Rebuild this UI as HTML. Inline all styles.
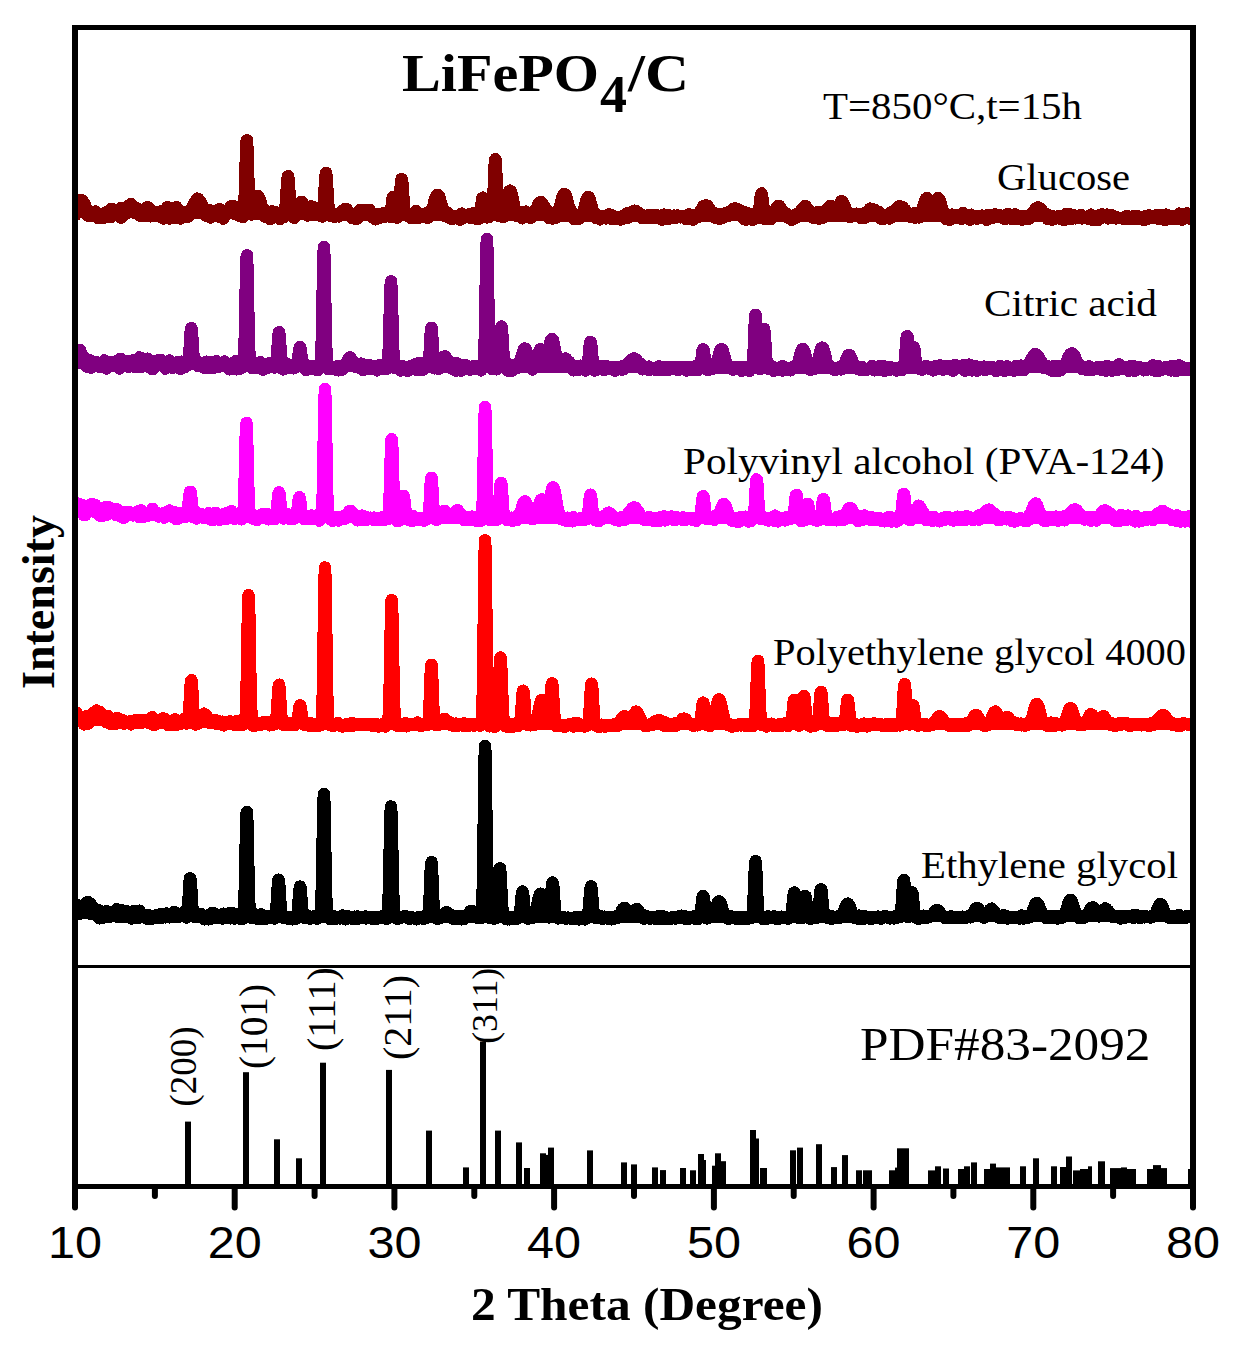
<!DOCTYPE html>
<html><head><meta charset="utf-8"><style>
html,body{margin:0;padding:0;background:#fff;width:1235px;height:1345px;overflow:hidden;}
svg{display:block;}

</style></head><body>
<svg width="1235" height="1345" viewBox="0 0 1235 1345">
<rect width="1235" height="1345" fill="#fff"/>
<defs><clipPath id="pc"><rect x="72" y="25" width="1124" height="940"/></clipPath></defs>
<g clip-path="url(#pc)" shape-rendering="crispEdges">
<path d="M76 213.0 L80 213.0 L84 213.0 L88 213.1 L92 213.1 L96 213.1 L100 213.2 L104 213.2 L108 213.2 L112 213.3 L116 213.3 L120 213.4 L124 213.4 L128 213.4 L132 213.5 L136 213.5 L140 213.5 L144 213.6 L148 213.6 L152 213.6 L156 213.7 L160 213.7 L164 213.7 L168 213.8 L172 213.8 L176 213.8 L180 213.9 L184 213.9 L188 213.9 L192 214.0 L196 214.0 L200 214.1 L204 214.1 L208 214.2 L212 214.2 L216 214.3 L220 214.3 L224 214.4 L228 214.4 L232 214.5 L236 214.5 L240 214.6 L244 214.7 L248 214.7 L252 214.8 L256 214.8 L260 214.9 L264 214.9 L268 215.0 L272 215.0 L276 215.1 L280 215.1 L284 215.2 L288 215.3 L292 215.3 L296 215.4 L300 215.4 L304 215.4 L308 215.5 L312 215.5 L316 215.5 L320 215.6 L324 215.6 L328 215.6 L332 215.7 L336 215.7 L340 215.7 L344 215.7 L348 215.8 L352 215.8 L356 215.8 L360 215.8 L364 215.8 L368 215.8 L372 215.8 L376 215.8 L380 215.9 L384 215.9 L388 215.9 L392 215.9 L396 215.9 L400 215.9 L404 215.9 L408 215.9 L412 215.9 L416 215.9 L420 215.9 L424 215.9 L428 216.0 L432 216.0 L436 216.0 L440 216.0 L444 216.0 L448 216.0 L452 216.0 L456 216.0 L460 216.0 L464 216.0 L468 216.0 L472 216.0 L476 216.0 L480 216.1 L484 216.1 L488 216.1 L492 216.1 L496 216.1 L500 216.1 L504 216.1 L508 216.1 L512 216.1 L516 216.1 L520 216.1 L524 216.1 L528 216.2 L532 216.2 L536 216.2 L540 216.2 L544 216.3 L548 216.3 L552 216.4 L556 216.5 L560 216.6 L564 216.6 L568 216.7 L572 216.8 L576 216.9 L580 217.0 L584 217.0 L588 217.1 L592 217.2 L596 217.3 L600 217.4 L604 217.3 L608 217.3 L612 217.3 L616 217.3 L620 217.3 L624 217.3 L628 217.3 L632 217.3 L636 217.3 L640 217.3 L644 217.3 L648 217.2 L652 217.2 L656 217.2 L660 217.2 L664 217.2 L668 217.2 L672 217.2 L676 217.2 L680 217.2 L684 217.1 L688 217.0 L692 216.9 L696 216.9 L700 216.8 L704 216.7 L708 216.6 L712 216.5 L716 216.5 L720 216.4 L724 216.4 L728 216.4 L732 216.4 L736 216.4 L740 216.4 L744 216.4 L748 216.4 L752 216.4 L756 216.4 L760 216.4 L764 216.5 L768 216.5 L772 216.5 L776 216.5 L780 216.5 L784 216.5 L788 216.5 L792 216.5 L796 216.5 L800 216.5 L804 216.5 L808 216.5 L812 216.5 L816 216.5 L820 216.5 L824 216.5 L828 216.5 L832 216.6 L836 216.6 L840 216.6 L844 216.6 L848 216.6 L852 216.6 L856 216.6 L860 216.6 L864 216.6 L868 216.6 L872 216.6 L876 216.6 L880 216.6 L884 216.6 L888 216.6 L892 216.6 L896 216.6 L900 216.7 L904 216.7 L908 216.7 L912 216.7 L916 216.7 L920 216.8 L924 216.8 L928 216.8 L932 216.8 L936 216.8 L940 216.9 L944 216.9 L948 216.9 L952 216.9 L956 216.9 L960 217.0 L964 217.0 L968 217.0 L972 217.0 L976 217.1 L980 217.1 L984 217.1 L988 217.1 L992 217.1 L996 217.2 L1000 217.2 L1004 217.2 L1008 217.2 L1012 217.2 L1016 217.2 L1020 217.2 L1024 217.2 L1028 217.2 L1032 217.2 L1036 217.2 L1040 217.2 L1044 217.2 L1048 217.2 L1052 217.2 L1056 217.2 L1060 217.2 L1064 217.2 L1068 217.2 L1072 217.2 L1076 217.2 L1080 217.2 L1084 217.2 L1088 217.2 L1092 217.2 L1096 217.2 L1100 217.2 L1104 217.2 L1108 217.2 L1112 217.2 L1116 217.2 L1120 217.2 L1124 217.2 L1128 217.2 L1132 217.2 L1136 217.2 L1140 217.2 L1144 217.2 L1148 217.2 L1152 217.2 L1156 217.2 L1160 217.2 L1164 217.2 L1168 217.2 L1172 217.2 L1176 217.2 L1180 217.2 L1184 217.2 L1188 217.2 L1192 217.2" fill="none" stroke="#800000" stroke-width="10.0"/><path d="M74 206.5 L74.5 215.0 L75 215.2 L75.5 210.0 L76 210.0 L76.5 206.0 L77 208.0 L77.5 206.6 L78 205.4 L78.5 204.8 L79 202.3 L79.5 202.5 L80 200.4 L80.5 200.4 L81 200.0 L81.5 200.7 L82 201.4 L82.5 200.7 L83 202.5 L83.5 203.1 L84 205.1 L84.5 203.7 L85 207.3 L85.5 210.5 L86 208.5 L86.5 209.8 L87 215.2 L87.5 212.1 L88 209.8 L88.5 210.5 L89 213.6 L89.5 216.1 L90.5 216.2 L91.5 213.9 L92.5 214.7 L93.5 214.7 L94.5 214.2 L95.5 211.5 L96.5 215.8 L97.5 213.0 L98.5 218.1 L99.5 215.6 L100.5 216.9 L101.5 213.9 L102.5 215.3 L103.5 218.1 L104.5 215.5 L105.5 214.3 L106.5 212.0 L107.5 213.4 L108.5 214.3 L109.5 215.3 L110.5 217.1 L111.5 208.9 L112.5 212.0 L113.5 215.6 L114.5 214.4 L115.5 210.0 L116.5 212.3 L117.5 215.1 L118.5 213.8 L119.5 216.0 L120.5 214.3 L121 217.7 L121.5 207.8 L122 212.3 L122.5 212.5 L123 211.0 L123.5 212.5 L124 210.8 L124.5 210.5 L125 209.7 L125.5 213.9 L126 208.4 L126.5 209.4 L127 208.2 L127.5 207.9 L128 207.7 L128.5 205.9 L129 207.5 L129.5 206.2 L130 206.8 L130.5 206.3 L131 204.0 L131.5 204.6 L132 206.2 L132.5 205.8 L133 207.3 L133.5 209.6 L134 207.4 L134.5 208.9 L135 210.8 L135.5 212.4 L136 207.9 L136.5 209.7 L137 210.2 L137.5 213.1 L138 212.0 L138.5 209.3 L139 213.9 L139.5 212.2 L140 215.4 L140.5 212.6 L141 215.9 L141.5 214.6 L142.5 211.2 L143.5 215.2 L144.5 213.7 L145.5 215.9 L146.5 213.0 L147.5 207.1 L148.5 211.9 L149.5 208.7 L150.5 216.3 L151.5 216.1 L152.5 211.7 L153.5 213.6 L154.5 212.0 L155.5 215.6 L156.5 216.0 L157.5 212.3 L158.5 216.3 L159.5 214.4 L160.5 213.0 L161.5 211.1 L162.5 213.5 L163.5 218.4 L164.5 213.7 L165.5 212.8 L166.5 217.1 L167.5 207.1 L168.5 214.6 L169.5 218.4 L170.5 211.6 L171.5 212.2 L172.5 214.0 L173.5 216.6 L174.5 213.1 L175.5 218.0 L176.5 207.3 L177.5 210.9 L178.5 213.2 L179.5 211.1 L180.5 218.4 L181.5 211.6 L182.5 215.8 L183.5 215.3 L184.5 213.8 L185.5 216.7 L186.5 215.6 L187 213.0 L187.5 213.8 L188 213.3 L188.5 216.5 L189 214.7 L189.5 215.0 L190 209.8 L190.5 212.9 L191 212.2 L191.5 208.8 L192 208.8 L192.5 206.8 L193 206.7 L193.5 206.1 L194 205.7 L194.5 203.0 L195 203.0 L195.5 202.3 L196 201.1 L196.5 200.3 L197 199.2 L197.5 198.6 L198 199.3 L198.5 199.1 L199 200.0 L199.5 200.3 L200 201.3 L200.5 201.8 L201 202.6 L201.5 203.9 L202 205.3 L202.5 206.2 L203 208.0 L203.5 207.8 L204 209.8 L204.5 209.8 L205 209.4 L205.5 212.6 L206 209.4 L206.5 216.1 L207 214.3 L207.5 211.2 L208 214.2 L208.5 216.0 L209 215.0 L209.5 210.3 L210.5 217.4 L211.5 215.8 L212.5 214.7 L213.5 213.8 L214.5 215.1 L215.5 214.1 L216.5 214.6 L217.5 214.1 L218.5 216.6 L219.5 209.1 L220.5 210.2 L221.5 213.4 L222.5 212.5 L223.5 218.6 L224.5 213.2 L225 212.5 L225.5 212.5 L226 213.7 L226.5 213.1 L227 212.0 L227.5 213.4 L228 211.8 L228.5 211.1 L229 212.6 L229.5 209.4 L230 207.7 L230.5 206.4 L231 207.7 L231.5 207.7 L232 208.2 L232.5 206.2 L233 206.1 L233.5 207.5 L234 206.5 L234.5 208.0 L235 209.4 L235.5 209.0 L236 210.2 L236.5 211.4 L237 212.1 L237.5 212.7 L238 215.0 L238.5 209.1 L239 210.6 L239.5 216.1 L240 212.9 L240.5 214.0 L241 214.6 L242 212.9 L242.5 217.0 L243 214.9 L243.5 216.0 L244 209.0 L244.5 202.2 L245 189.7 L245.5 172.3 L246 154.1 L246.5 141.5 L247 140.3 L247.5 150.9 L248 168.6 L248.5 186.6 L249 200.0 L249.5 207.4 L250 210.5 L250.5 214.4 L251 211.7 L251.5 214.2 L252 214.4 L252.5 212.2 L253 209.5 L253.5 210.3 L254 205.9 L254.5 205.5 L255 203.3 L255.5 201.8 L256 200.3 L256.5 198.5 L257 197.2 L257.5 196.7 L258 196.2 L258.5 196.7 L259 197.6 L259.5 198.7 L260 199.8 L260.5 202.2 L261 203.3 L261.5 205.5 L262 207.8 L262.5 208.9 L263 208.2 L263.5 210.4 L264 211.2 L264.5 213.7 L265 216.5 L265.5 212.2 L266 211.7 L266.5 213.5 L267 213.5 L268 214.6 L269 212.8 L270 218.9 L271 215.7 L272 211.3 L273 217.6 L274 215.6 L275 216.3 L276 212.2 L277 215.8 L278 217.0 L279 217.9 L280 219.0 L281 217.0 L282 216.5 L283 212.9 L283.5 212.8 L284 217.1 L284.5 215.8 L285 209.7 L285.5 206.6 L286 201.5 L286.5 193.9 L287 185.3 L287.5 178.8 L288 176.2 L288.5 178.8 L289 185.3 L289.5 193.8 L290 201.7 L290.5 208.6 L291 211.6 L291.5 215.6 L292 214.6 L292.5 215.9 L293 210.5 L293.5 213.5 L294 217.8 L294.5 213.8 L295 211.3 L295.5 213.7 L296 212.9 L296.5 211.5 L297 208.5 L297.5 207.9 L298 206.5 L298.5 206.7 L299 205.0 L299.5 204.2 L300 203.0 L300.5 202.3 L301 202.6 L301.5 202.2 L302 202.2 L302.5 204.2 L303 205.1 L303.5 206.0 L304 207.3 L304.5 210.0 L305 209.0 L305.5 210.9 L306 212.3 L306.5 213.3 L307 210.1 L307.5 215.5 L308 213.0 L308.5 212.8 L309 210.5 L309.5 210.2 L310 209.0 L310.5 208.9 L311 206.4 L311.5 207.7 L312 207.3 L312.5 207.5 L313 207.0 L313.5 207.9 L314 207.8 L314.5 207.6 L315 209.1 L315.5 210.5 L316 210.1 L316.5 211.9 L317 210.9 L317.5 213.0 L318 213.2 L318.5 215.2 L319 213.4 L319.5 213.8 L320 214.2 L320.5 215.6 L321.5 215.8 L322 216.5 L322.5 213.7 L323 208.9 L323.5 208.0 L324 200.8 L324.5 192.0 L325 182.7 L325.5 175.5 L326 172.8 L326.5 175.5 L327 182.7 L327.5 192.1 L328 200.7 L328.5 207.9 L329 211.6 L329.5 211.3 L330 215.5 L330.5 213.4 L331.5 215.3 L332.5 215.6 L333.5 214.7 L334.5 216.7 L335.5 214.0 L336.5 216.2 L337.5 214.8 L338 214.6 L338.5 215.3 L339 216.4 L339.5 213.5 L340 214.3 L340.5 214.9 L341 212.7 L341.5 211.4 L342 213.9 L342.5 210.7 L343 210.3 L343.5 210.7 L344 210.8 L344.5 209.8 L345 209.0 L345.5 210.2 L346 210.8 L346.5 209.1 L347 211.2 L347.5 210.8 L348 213.9 L348.5 211.6 L349 212.1 L349.5 212.4 L350 215.4 L350.5 216.1 L351 214.9 L351.5 215.1 L352 216.2 L352.5 218.1 L353.5 215.6 L354.5 218.6 L355.5 216.1 L356.5 218.0 L357.5 218.7 L358.5 212.3 L359 216.5 L359.5 210.4 L360 212.3 L360.5 212.2 L361 213.1 L361.5 213.6 L362 215.3 L362.5 213.1 L363 212.7 L363.5 211.4 L364 211.1 L364.5 209.9 L365 210.2 L365.5 211.6 L366 210.1 L366.5 210.2 L367 210.1 L367.5 211.4 L368 211.8 L368.5 210.5 L369 212.2 L369.5 209.9 L370 212.6 L370.5 212.6 L371 214.9 L371.5 212.7 L372 217.3 L372.5 216.4 L373 217.4 L373.5 216.0 L374.5 217.3 L375.5 219.3 L376.5 214.0 L377.5 216.7 L378.5 217.7 L379.5 216.5 L380.5 217.5 L381.5 215.5 L382.5 215.4 L383.5 213.2 L384.5 215.2 L385.5 216.5 L386.5 216.2 L387.5 215.1 L388.5 215.7 L389.5 214.1 L390 216.6 L390.5 217.0 L391 212.4 L391.5 208.6 L392 203.1 L392.5 199.0 L393 197.0 L393.5 199.1 L394 203.7 L394.5 209.6 L395 212.0 L395.5 211.8 L396 215.6 L396.5 214.9 L397 217.5 L397.5 215.1 L398 214.0 L398.5 212.1 L399 209.7 L399.5 205.8 L400 198.8 L400.5 190.4 L401 183.2 L401.5 179.0 L402 179.5 L402.5 184.5 L403 192.1 L403.5 200.3 L404 206.5 L404.5 212.2 L405 213.6 L405.5 213.9 L406 213.2 L407 214.0 L408 215.8 L409 215.6 L410 216.7 L411 218.0 L412 216.6 L413 216.8 L414 217.3 L415 217.6 L416 211.1 L417 211.7 L418 218.0 L419 216.3 L420 216.0 L421 215.8 L422 216.6 L423 215.2 L424 214.0 L425 214.0 L426 216.3 L427 213.2 L427.5 217.9 L428 216.3 L428.5 213.4 L429 215.0 L429.5 214.1 L430 212.5 L430.5 212.7 L431 211.8 L431.5 209.9 L432 209.6 L432.5 207.9 L433 207.1 L433.5 205.5 L434 203.3 L434.5 200.8 L435 199.5 L435.5 197.8 L436 196.6 L436.5 195.6 L437 194.9 L437.5 194.8 L438 195.1 L438.5 195.6 L439 196.4 L439.5 197.9 L440 199.3 L440.5 201.3 L441 203.0 L441.5 204.8 L442 206.0 L442.5 207.7 L443 211.3 L443.5 210.0 L444 212.6 L444.5 212.9 L445 216.0 L445.5 213.2 L446 214.6 L446.5 215.7 L447 214.6 L447.5 213.6 L448 213.1 L449 214.3 L450 218.3 L451 216.5 L452 215.5 L453 218.5 L454 217.5 L455 215.9 L456 215.8 L457 216.2 L458 216.7 L459 217.8 L460 219.6 L461 214.0 L462 213.6 L463 217.9 L464 216.9 L465 215.4 L466 215.9 L467 216.7 L468 217.2 L469 214.3 L470 217.7 L471 216.4 L472 214.7 L473 213.7 L474 213.1 L475 215.4 L476 218.8 L477 215.3 L478 214.7 L478.5 218.9 L479 217.2 L479.5 213.2 L480 215.8 L480.5 213.1 L481 207.2 L481.5 203.7 L482 200.5 L482.5 197.9 L483 197.7 L483.5 199.7 L484 203.3 L484.5 206.6 L485 211.5 L485.5 214.7 L486 213.0 L486.5 216.2 L487 217.4 L488 216.2 L489 217.1 L490 215.6 L491 215.4 L491.5 215.3 L492 214.7 L492.5 212.8 L493 205.3 L493.5 195.1 L494 182.1 L494.5 168.9 L495 160.0 L495.5 159.2 L496 166.6 L496.5 179.3 L497 192.8 L497.5 203.5 L498 210.1 L498.5 213.5 L499 215.6 L499.5 216.2 L500.5 215.5 L501 216.2 L501.5 216.2 L502 211.0 L502.5 213.3 L503 217.2 L503.5 212.3 L504 212.4 L504.5 210.3 L505 210.1 L505.5 207.6 L506 206.3 L506.5 202.4 L507 200.7 L507.5 198.3 L508 195.8 L508.5 193.6 L509 192.1 L509.5 191.0 L510 190.7 L510.5 191.1 L511 191.9 L511.5 193.6 L512 195.8 L512.5 198.0 L513 200.6 L513.5 203.2 L514 205.3 L514.5 208.4 L515 209.8 L515.5 211.9 L516 213.8 L516.5 211.4 L517 214.0 L517.5 216.1 L518 212.2 L518.5 215.2 L519 214.2 L520 216.5 L521 212.2 L522 218.3 L523 217.2 L524 217.3 L525 215.1 L526 211.7 L527 215.3 L528 216.4 L529 215.9 L530 216.2 L530.5 217.9 L531 216.1 L531.5 213.6 L532 216.7 L532.5 214.3 L533 213.2 L533.5 215.5 L534 211.4 L534.5 213.4 L535 213.0 L535.5 211.6 L536 210.5 L536.5 209.7 L537 207.9 L537.5 207.1 L538 205.5 L538.5 204.3 L539 203.4 L539.5 202.7 L540 202.3 L540.5 202.3 L541 202.0 L541.5 202.6 L542 203.1 L542.5 204.1 L543 205.3 L543.5 206.2 L544 206.0 L544.5 208.8 L545 209.5 L545.5 209.8 L546 213.2 L546.5 210.2 L547 212.1 L547.5 215.1 L548 215.2 L548.5 217.6 L549 217.8 L549.5 212.8 L550 214.7 L550.5 217.1 L551.5 216.5 L552.5 218.5 L553.5 216.8 L554 217.3 L554.5 217.1 L555 215.4 L555.5 217.7 L556 215.2 L556.5 214.7 L557 213.9 L557.5 213.0 L558 210.8 L558.5 209.8 L559 209.0 L559.5 208.3 L560 205.7 L560.5 204.7 L561 202.5 L561.5 200.9 L562 198.7 L562.5 197.0 L563 195.9 L563.5 194.7 L564 194.2 L564.5 194.0 L565 194.4 L565.5 195.2 L566 196.2 L566.5 197.7 L567 199.5 L567.5 201.6 L568 203.4 L568.5 205.6 L569 207.3 L569.5 208.4 L570 209.4 L570.5 211.9 L571 211.9 L571.5 214.3 L572 216.8 L572.5 216.5 L573 214.8 L573.5 213.8 L574 215.6 L574.5 219.2 L575 216.6 L576 218.6 L577 218.2 L578 215.0 L579 218.5 L579.5 215.6 L580 216.1 L580.5 217.1 L581 214.3 L581.5 215.2 L582 213.1 L582.5 214.2 L583 213.3 L583.5 211.8 L584 210.3 L584.5 207.7 L585 205.7 L585.5 203.3 L586 201.8 L586.5 199.7 L587 198.6 L587.5 197.6 L588 197.2 L588.5 197.1 L589 197.9 L589.5 198.8 L590 200.3 L590.5 202.4 L591 204.0 L591.5 206.2 L592 207.4 L592.5 210.5 L593 212.6 L593.5 214.3 L594 214.1 L594.5 213.0 L595 215.5 L595.5 217.8 L596 216.3 L596.5 216.7 L597 216.1 L598 217.1 L599 217.0 L600 219.4 L601 215.9 L602 217.0 L603 217.6 L604 215.9 L605 217.7 L606 218.4 L607 216.5 L608 216.1 L609 214.4 L610 215.6 L611 218.5 L612 215.1 L613 217.6 L614 218.4 L615 217.5 L616 216.8 L617 219.2 L618 217.3 L619 217.1 L620 219.4 L621 219.5 L622 218.3 L623 215.8 L624 216.8 L625 217.2 L625.5 215.0 L626 216.8 L626.5 215.7 L627 213.4 L627.5 217.9 L628 214.6 L628.5 213.8 L629 215.6 L629.5 215.0 L630 215.6 L630.5 214.7 L631 212.3 L631.5 212.9 L632 212.6 L632.5 212.6 L633 212.4 L633.5 212.2 L634 211.4 L634.5 210.7 L635 211.0 L635.5 210.9 L636 211.8 L636.5 212.2 L637 212.7 L637.5 212.6 L638 212.4 L638.5 213.8 L639 213.5 L639.5 214.4 L640 215.3 L640.5 214.5 L641 217.2 L641.5 215.0 L642 218.0 L642.5 216.5 L643 216.1 L643.5 217.1 L644 216.9 L644.5 216.6 L645 217.0 L646 216.5 L647 217.6 L648 217.7 L649 215.0 L650 217.5 L651 217.0 L652 216.0 L653 215.4 L654 218.1 L655 216.8 L656 214.8 L657 216.7 L658 217.7 L659 217.7 L660 218.7 L661 215.7 L662 219.7 L663 217.8 L664 214.6 L665 216.5 L666 217.4 L667 215.1 L668 218.9 L669 217.6 L670 215.6 L671 217.3 L672 217.8 L673 217.9 L674 215.7 L675 217.9 L676 215.8 L677 215.7 L678 215.6 L679 216.2 L680 217.3 L681 217.1 L682 216.0 L683 216.6 L684 217.3 L685 216.9 L686 219.1 L687 216.7 L688 216.2 L689 214.4 L690 215.4 L691 216.5 L692 217.2 L693 219.6 L694 217.3 L694.5 215.7 L695 215.4 L695.5 215.1 L696 216.8 L696.5 216.1 L697 217.4 L697.5 214.4 L698 213.7 L698.5 214.8 L699 215.1 L699.5 212.9 L700 212.5 L700.5 211.0 L701 211.4 L701.5 210.6 L702 210.2 L702.5 208.9 L703 206.6 L703.5 206.9 L704 206.3 L704.5 205.7 L705 205.7 L705.5 205.5 L706 205.3 L706.5 205.4 L707 206.1 L707.5 205.7 L708 206.8 L708.5 207.8 L709 208.4 L709.5 209.5 L710 210.3 L710.5 211.2 L711 213.5 L711.5 211.6 L712 215.3 L712.5 212.1 L713 214.8 L713.5 216.7 L714 214.5 L714.5 214.3 L715 217.6 L715.5 214.7 L716 214.6 L716.5 216.2 L717.5 216.4 L718.5 214.2 L719.5 219.0 L720.5 217.6 L721.5 216.7 L722.5 217.1 L723.5 217.4 L724.5 215.0 L725 216.4 L725.5 213.1 L726 216.3 L726.5 214.8 L727 216.1 L727.5 215.7 L728 216.1 L728.5 213.7 L729 212.1 L729.5 212.5 L730 213.8 L730.5 214.1 L731 213.0 L731.5 211.6 L732 210.5 L732.5 209.9 L733 209.8 L733.5 208.8 L734 209.1 L734.5 209.8 L735 208.4 L735.5 210.1 L736 209.7 L736.5 210.5 L737 208.8 L737.5 209.3 L738 210.7 L738.5 212.5 L739 210.8 L739.5 214.6 L740 214.1 L740.5 212.6 L741 215.3 L741.5 212.7 L742 211.3 L742.5 217.7 L743 215.6 L743.5 217.2 L744 211.9 L744.5 219.2 L745 218.6 L746 219.6 L747 213.0 L748 216.8 L749 213.9 L750 217.7 L751 219.3 L752 217.2 L753 219.7 L754 214.3 L755 217.8 L756 216.4 L757 213.7 L757.5 218.2 L758 216.3 L758.5 214.2 L759 213.3 L759.5 208.2 L760 203.7 L760.5 198.5 L761 194.7 L761.5 193.4 L762 194.9 L762.5 198.7 L763 203.1 L763.5 207.9 L764 211.5 L764.5 214.7 L765 214.1 L765.5 219.2 L766 214.8 L767 217.4 L768 216.9 L769 215.4 L770 219.1 L770.5 213.8 L771 219.1 L771.5 217.3 L772 214.9 L772.5 215.4 L773 215.6 L773.5 214.5 L774 214.4 L774.5 212.3 L775 211.7 L775.5 210.2 L776 208.9 L776.5 208.9 L777 207.8 L777.5 207.2 L778 206.2 L778.5 205.8 L779 205.9 L779.5 206.0 L780 207.3 L780.5 208.6 L781 209.0 L781.5 210.2 L782 212.9 L782.5 210.7 L783 214.0 L783.5 214.3 L784 214.5 L784.5 214.4 L785 213.7 L785.5 213.4 L786 213.8 L786.5 213.5 L787.5 217.3 L788.5 216.5 L789.5 218.3 L790.5 218.6 L791.5 219.8 L792.5 217.9 L793.5 215.8 L794.5 216.4 L795.5 217.8 L796.5 214.3 L797 214.2 L797.5 216.7 L798 216.2 L798.5 215.0 L799 216.1 L799.5 215.1 L800 214.9 L800.5 212.5 L801 212.4 L801.5 212.2 L802 209.3 L802.5 210.0 L803 209.7 L803.5 207.7 L804 207.5 L804.5 206.4 L805 206.1 L805.5 206.2 L806 207.6 L806.5 207.4 L807 209.5 L807.5 209.4 L808 211.7 L808.5 210.1 L809 213.3 L809.5 212.9 L810 215.8 L810.5 213.3 L811 212.2 L811.5 215.7 L812 217.2 L812.5 215.9 L813 217.8 L814 216.4 L815 214.4 L816 215.1 L817 218.2 L818 211.8 L819 218.8 L820 217.5 L821 218.0 L822 216.7 L822.5 217.0 L823 217.6 L823.5 212.8 L824 215.1 L824.5 211.4 L825 213.0 L825.5 214.4 L826 213.0 L826.5 212.6 L827 211.5 L827.5 210.0 L828 208.8 L828.5 208.0 L829 208.0 L829.5 206.8 L830 206.1 L830.5 206.2 L831 206.1 L831.5 206.6 L832 208.0 L832.5 208.7 L833 208.6 L833.5 208.8 L834 210.9 L834.5 211.9 L835 211.2 L835.5 215.1 L836 213.3 L836.5 212.9 L837 211.9 L837.5 209.0 L838 210.3 L838.5 207.3 L839 206.7 L839.5 204.7 L840 203.5 L840.5 202.8 L841 201.7 L841.5 201.0 L842 201.4 L842.5 202.2 L843 202.8 L843.5 204.1 L844 205.3 L844.5 206.8 L845 207.4 L845.5 210.1 L846 211.3 L846.5 210.8 L847 214.6 L847.5 215.5 L848 216.2 L848.5 214.0 L849 216.4 L849.5 217.0 L850 217.1 L850.5 216.4 L851.5 214.1 L852.5 213.9 L853.5 216.2 L854.5 215.0 L855.5 215.0 L856.5 213.7 L857.5 215.2 L858.5 216.1 L859.5 216.1 L860.5 216.4 L861.5 218.2 L862 217.5 L862.5 215.6 L863 217.2 L863.5 215.6 L864 216.1 L864.5 213.2 L865 217.6 L865.5 216.5 L866 212.7 L866.5 214.0 L867 212.4 L867.5 212.2 L868 213.5 L868.5 211.7 L869 210.6 L869.5 210.7 L870 208.7 L870.5 209.4 L871 209.1 L871.5 210.3 L872 210.2 L872.5 209.1 L873 209.8 L873.5 209.5 L874 211.1 L874.5 209.7 L875 210.4 L875.5 213.2 L876 211.1 L876.5 213.7 L877 215.0 L877.5 214.0 L878 213.1 L878.5 211.9 L879 215.5 L879.5 217.3 L880 217.6 L880.5 214.9 L881 218.6 L881.5 218.6 L882 217.4 L882.5 216.9 L883.5 216.0 L884.5 218.5 L885.5 217.0 L886.5 216.3 L887.5 215.6 L888.5 213.9 L889 214.5 L889.5 218.5 L890 218.3 L890.5 215.0 L891 212.5 L891.5 215.8 L892 216.4 L892.5 213.1 L893 213.5 L893.5 212.6 L894 214.0 L894.5 211.8 L895 213.1 L895.5 210.7 L896 209.9 L896.5 210.2 L897 208.2 L897.5 207.4 L898 207.5 L898.5 207.8 L899 206.9 L899.5 206.1 L900 207.0 L900.5 206.5 L901 206.6 L901.5 207.0 L902 207.2 L902.5 207.1 L903 209.8 L903.5 210.2 L904 210.8 L904.5 210.8 L905 209.6 L905.5 212.5 L906 212.3 L906.5 212.6 L907 215.7 L907.5 214.8 L908 215.8 L908.5 215.7 L909 214.1 L909.5 216.4 L910 214.6 L910.5 216.2 L911 216.4 L912 216.7 L913 216.4 L914 213.3 L915 217.7 L916 216.8 L917 217.2 L917.5 213.4 L918 216.1 L918.5 214.7 L919 217.4 L919.5 215.7 L920 214.6 L920.5 215.3 L921 213.0 L921.5 212.1 L922 211.7 L922.5 210.0 L923 206.5 L923.5 205.5 L924 204.3 L924.5 202.3 L925 200.7 L925.5 199.5 L926 198.8 L926.5 198.2 L927 198.2 L927.5 199.1 L928 200.1 L928.5 201.7 L929 203.4 L929.5 205.1 L930 207.1 L930.5 208.3 L931 210.8 L931.5 211.3 L932 212.9 L932.5 214.6 L933 212.4 L933.5 212.6 L934 210.6 L934.5 208.0 L935 206.4 L935.5 204.5 L936 202.5 L936.5 201.3 L937 200.0 L937.5 198.8 L938 198.2 L938.5 198.3 L939 198.9 L939.5 199.6 L940 200.8 L940.5 202.5 L941 205.0 L941.5 206.4 L942 208.6 L942.5 210.2 L943 212.7 L943.5 212.9 L944 214.6 L944.5 213.4 L945 216.5 L945.5 218.4 L946 217.5 L946.5 219.2 L947 218.3 L948 216.9 L949 217.4 L950 219.8 L951 216.2 L952 214.7 L953 217.3 L954 216.9 L955 216.4 L956 218.0 L957 214.8 L958 217.2 L959 218.0 L960 218.4 L961 218.5 L962 218.6 L963 213.1 L964 216.0 L965 216.9 L966 217.1 L967 215.9 L968 217.4 L969 217.7 L970 219.8 L971 214.7 L972 215.6 L973 215.7 L974 216.7 L975 218.1 L976 218.1 L977 218.7 L978 216.0 L979 218.2 L980 216.5 L981 217.0 L982 215.6 L983 216.8 L984 217.1 L985 216.3 L986 217.4 L987 219.8 L988 214.9 L989 216.3 L990 217.1 L991 217.4 L992 218.2 L993 216.1 L994 216.5 L995 214.5 L996 217.1 L997 215.7 L998 216.6 L999 215.9 L1000 215.4 L1001 217.3 L1002 216.5 L1003 216.4 L1004 218.2 L1005 218.9 L1006 216.8 L1007 214.4 L1008 213.9 L1009 214.8 L1010 218.3 L1011 218.3 L1012 219.1 L1013 216.5 L1014 217.1 L1015 214.4 L1016 217.7 L1017 218.7 L1018 216.8 L1019 215.8 L1020 217.4 L1021 215.9 L1022 219.7 L1023 219.4 L1024 216.1 L1025 217.4 L1026 216.6 L1027 218.5 L1027.5 216.6 L1028 217.9 L1028.5 216.4 L1029 215.4 L1029.5 218.5 L1030 216.9 L1030.5 214.2 L1031 216.2 L1031.5 213.7 L1032 214.4 L1032.5 214.4 L1033 213.4 L1033.5 213.1 L1034 211.1 L1034.5 210.9 L1035 209.8 L1035.5 208.7 L1036 209.5 L1036.5 208.2 L1037 208.5 L1037.5 207.7 L1038 207.5 L1038.5 208.1 L1039 207.6 L1039.5 208.6 L1040 208.9 L1040.5 208.8 L1041 210.6 L1041.5 210.4 L1042 210.4 L1042.5 211.7 L1043 211.9 L1043.5 213.6 L1044 213.5 L1044.5 214.3 L1045 214.4 L1045.5 215.0 L1046 215.9 L1046.5 216.2 L1047 214.2 L1047.5 218.9 L1048 216.4 L1048.5 216.1 L1049 215.7 L1050 217.0 L1051 216.9 L1052 219.8 L1053 216.6 L1054 216.6 L1055 218.6 L1056 218.4 L1057 216.7 L1058 217.2 L1059 218.5 L1060 216.4 L1061 216.9 L1062 216.3 L1063 218.5 L1064 219.9 L1065 215.1 L1066 214.2 L1067 215.1 L1068 215.6 L1069 218.4 L1070 214.3 L1071 218.9 L1072 217.6 L1073 215.1 L1074 217.8 L1075 218.2 L1076 216.7 L1077 216.9 L1078 216.3 L1079 217.7 L1080 218.0 L1081 215.0 L1082 218.3 L1083 217.1 L1084 216.8 L1085 217.2 L1086 217.5 L1087 217.1 L1088 216.8 L1089 219.0 L1090 216.8 L1091 214.7 L1092 216.7 L1093 219.9 L1094 216.3 L1095 217.0 L1096 218.7 L1097 216.8 L1098 219.9 L1099 215.3 L1100 218.7 L1101 217.7 L1102 214.4 L1103 216.7 L1104 215.7 L1105 215.1 L1106 216.5 L1107 214.6 L1108 218.3 L1109 217.2 L1110 215.1 L1111 214.8 L1112 217.0 L1113 217.8 L1114 216.4 L1115 216.6 L1116 218.4 L1117 217.6 L1118 217.7 L1119 218.0 L1120 218.1 L1121 217.8 L1122 217.8 L1123 218.6 L1124 217.7 L1125 216.8 L1126 216.4 L1127 216.9 L1128 216.4 L1129 219.2 L1130 219.1 L1131 218.5 L1132 217.4 L1133 216.3 L1134 215.9 L1135 218.7 L1136 215.8 L1137 215.9 L1138 218.3 L1139 216.6 L1140 219.1 L1141 218.9 L1142 216.9 L1143 219.5 L1144 216.7 L1145 219.9 L1146 217.2 L1147 217.9 L1148 218.6 L1149 215.5 L1150 215.8 L1151 217.0 L1152 217.4 L1153 216.4 L1154 218.1 L1155 216.0 L1156 215.3 L1157 215.2 L1158 216.3 L1159 219.0 L1160 215.4 L1161 215.9 L1162 218.7 L1163 218.1 L1164 216.3 L1165 219.9 L1166 214.6 L1167 217.1 L1168 218.1 L1169 215.7 L1170 219.0 L1171 217.4 L1172 215.8 L1173 218.0 L1174 219.1 L1175 215.8 L1176 216.9 L1177 218.6 L1178 219.2 L1179 213.7 L1180 217.9 L1181 217.8 L1182 219.5 L1183 218.4 L1184 218.8 L1185 216.2 L1186 216.8 L1187 213.4 L1188 217.1 L1189 218.4 L1190 214.9 L1191 218.3 L1192 218.3" fill="none" stroke="#800000" stroke-width="12.5" stroke-linejoin="round" stroke-linecap="round"/>
<path d="M76 363.5 L80 363.5 L84 363.6 L88 363.6 L92 363.6 L96 363.7 L100 363.7 L104 363.8 L108 363.8 L112 363.8 L116 363.9 L120 363.9 L124 364.0 L128 364.0 L132 364.0 L136 364.1 L140 364.1 L144 364.2 L148 364.2 L152 364.3 L156 364.3 L160 364.3 L164 364.4 L168 364.4 L172 364.5 L176 364.5 L180 364.5 L184 364.6 L188 364.6 L192 364.7 L196 364.7 L200 364.8 L204 364.8 L208 364.9 L212 365.0 L216 365.1 L220 365.1 L224 365.2 L228 365.3 L232 365.4 L236 365.5 L240 365.5 L244 365.6 L248 365.7 L252 365.8 L256 365.9 L260 366.0 L264 366.0 L268 366.1 L272 366.2 L276 366.3 L280 366.4 L284 366.4 L288 366.5 L292 366.6 L296 366.7 L300 366.8 L304 366.8 L308 366.8 L312 366.9 L316 366.9 L320 367.0 L324 367.0 L328 367.0 L332 367.1 L336 367.1 L340 367.2 L344 367.2 L348 367.3 L352 367.3 L356 367.3 L360 367.3 L364 367.3 L368 367.3 L372 367.3 L376 367.3 L380 367.3 L384 367.3 L388 367.4 L392 367.4 L396 367.4 L400 367.4 L404 367.4 L408 367.4 L412 367.4 L416 367.4 L420 367.4 L424 367.4 L428 367.4 L432 367.4 L436 367.4 L440 367.5 L444 367.5 L448 367.5 L452 367.5 L456 367.5 L460 367.5 L464 367.5 L468 367.5 L472 367.5 L476 367.5 L480 367.5 L484 367.5 L488 367.5 L492 367.5 L496 367.6 L500 367.6 L504 367.6 L508 367.6 L512 367.6 L516 367.6 L520 367.6 L524 367.6 L528 367.6 L532 367.6 L536 367.6 L540 367.6 L544 367.6 L548 367.7 L552 367.7 L556 367.7 L560 367.7 L564 367.7 L568 367.7 L572 367.7 L576 367.7 L580 367.7 L584 367.7 L588 367.7 L592 367.7 L596 367.7 L600 367.8 L604 367.8 L608 367.9 L612 368.0 L616 368.0 L620 368.1 L624 368.2 L628 368.3 L632 368.3 L636 368.4 L640 368.5 L644 368.6 L648 368.6 L652 368.7 L656 368.7 L660 368.7 L664 368.7 L668 368.7 L672 368.7 L676 368.7 L680 368.7 L684 368.7 L688 368.7 L692 368.7 L696 368.7 L700 368.7 L704 368.7 L708 368.7 L712 368.7 L716 368.7 L720 368.7 L724 368.7 L728 368.7 L732 368.7 L736 368.7 L740 368.7 L744 368.7 L748 368.7 L752 368.7 L756 368.7 L760 368.7 L764 368.7 L768 368.7 L772 368.7 L776 368.7 L780 368.7 L784 368.7 L788 368.7 L792 368.7 L796 368.7 L800 368.7 L804 368.7 L808 368.7 L812 368.7 L816 368.7 L820 368.7 L824 368.7 L828 368.7 L832 368.7 L836 368.7 L840 368.7 L844 368.7 L848 368.7 L852 368.7 L856 368.7 L860 368.7 L864 368.7 L868 368.7 L872 368.7 L876 368.7 L880 368.7 L884 368.7 L888 368.7 L892 368.7 L896 368.7 L900 368.8 L904 368.7 L908 368.6 L912 368.6 L916 368.5 L920 368.5 L924 368.4 L928 368.4 L932 368.3 L936 368.3 L940 368.2 L944 368.1 L948 368.1 L952 368.1 L956 368.1 L960 368.1 L964 368.1 L968 368.1 L972 368.1 L976 368.1 L980 368.1 L984 368.1 L988 368.1 L992 368.1 L996 368.1 L1000 368.1 L1004 368.1 L1008 368.1 L1012 368.1 L1016 368.1 L1020 368.1 L1024 368.1 L1028 368.1 L1032 368.1 L1036 368.1 L1040 368.1 L1044 368.1 L1048 368.1 L1052 368.1 L1056 368.1 L1060 368.1 L1064 368.1 L1068 368.1 L1072 368.1 L1076 368.1 L1080 368.1 L1084 368.1 L1088 368.1 L1092 368.1 L1096 368.1 L1100 368.1 L1104 368.1 L1108 368.1 L1112 368.1 L1116 368.1 L1120 368.1 L1124 368.1 L1128 368.1 L1132 368.1 L1136 368.1 L1140 368.1 L1144 368.1 L1148 368.1 L1152 368.1 L1156 368.1 L1160 368.1 L1164 368.1 L1168 368.1 L1172 368.1 L1176 368.1 L1180 368.1 L1184 368.1 L1188 368.1 L1192 368.1" fill="none" stroke="#800080" stroke-width="10.0"/><path d="M74 362.1 L74.5 358.5 L75 357.9 L75.5 356.0 L76 355.3 L76.5 353.3 L77 352.9 L77.5 351.7 L78 350.7 L78.5 350.9 L79 350.4 L79.5 350.6 L80 350.0 L80.5 351.9 L81 352.5 L81.5 353.7 L82 355.7 L82.5 358.5 L83 356.8 L83.5 359.8 L84 359.0 L84.5 363.6 L85 362.7 L85.5 359.4 L86 359.2 L86.5 366.3 L87 366.7 L87.5 363.5 L88.5 363.1 L89.5 366.3 L90.5 360.5 L91.5 367.6 L92.5 361.5 L93.5 363.9 L94.5 364.0 L95.5 363.6 L96.5 362.5 L97.5 364.1 L98.5 362.7 L99.5 363.8 L100.5 367.1 L101.5 365.3 L102.5 364.3 L103.5 365.2 L104.5 360.4 L105.5 363.9 L106.5 368.6 L107.5 366.7 L108.5 366.8 L109.5 364.9 L110.5 362.0 L111.5 364.6 L112.5 363.9 L113.5 361.9 L114.5 364.8 L115.5 365.8 L116.5 363.6 L117.5 360.7 L118.5 367.6 L119.5 368.6 L120.5 358.8 L121.5 364.9 L122.5 363.9 L123.5 366.0 L124.5 361.6 L125.5 363.2 L126.5 361.3 L127.5 362.2 L128.5 366.8 L129.5 361.4 L130.5 363.7 L131.5 363.2 L132.5 360.5 L133.5 364.2 L134.5 367.0 L135.5 364.0 L136.5 360.8 L137.5 360.7 L138.5 367.0 L139.5 357.4 L140.5 367.1 L141.5 360.5 L142.5 362.1 L143.5 360.9 L144.5 363.4 L145.5 365.2 L146.5 359.5 L147.5 358.6 L148.5 366.9 L149.5 363.9 L150.5 364.7 L151.5 368.8 L152.5 364.9 L153.5 368.8 L154.5 367.2 L155.5 362.7 L156.5 360.7 L157.5 363.6 L158.5 362.1 L159.5 361.5 L160.5 359.8 L161.5 364.6 L162.5 362.2 L163.5 364.7 L164.5 362.9 L165.5 368.6 L166.5 365.3 L167.5 367.0 L168.5 363.7 L169.5 360.5 L170.5 363.7 L171.5 365.4 L172.5 367.8 L173.5 366.5 L174.5 362.8 L175.5 367.0 L176.5 366.0 L177.5 362.2 L178.5 364.1 L179.5 362.4 L180.5 368.9 L181.5 361.7 L182.5 366.9 L183.5 365.3 L184.5 363.7 L185.5 366.6 L186.5 365.8 L187 365.2 L187.5 360.3 L188 363.2 L188.5 361.7 L189 357.7 L189.5 351.3 L190 342.7 L190.5 334.3 L191 328.7 L191.5 328.1 L192 332.9 L192.5 341.1 L193 349.5 L193.5 356.2 L194 360.8 L194.5 360.0 L195 360.3 L195.5 361.5 L196.5 360.4 L197.5 365.8 L198.5 362.0 L199.5 362.7 L200.5 364.7 L201.5 365.0 L202.5 366.3 L203.5 364.0 L204.5 368.0 L205.5 365.1 L206.5 361.7 L207.5 365.3 L208.5 368.1 L209.5 362.1 L210.5 363.3 L211.5 364.1 L212.5 365.3 L213.5 367.7 L214.5 365.9 L215.5 363.2 L216.5 361.1 L217.5 366.3 L218.5 362.7 L219.5 366.6 L220.5 364.7 L221.5 364.3 L222.5 365.5 L223.5 363.8 L224.5 361.5 L225.5 365.1 L226.5 363.1 L227.5 366.1 L228.5 365.7 L229.5 369.3 L230.5 367.1 L231.5 363.8 L232.5 366.3 L233.5 366.2 L234.5 365.7 L235.5 361.2 L236.5 369.3 L237.5 368.5 L238.5 366.8 L239.5 365.0 L240.5 368.6 L241.5 364.8 L242.5 366.2 L243 367.0 L243.5 363.5 L244 357.5 L244.5 347.4 L245 328.7 L245.5 302.9 L246 275.9 L246.5 257.3 L247 255.5 L247.5 271.2 L248 297.4 L248.5 324.1 L249 344.4 L249.5 356.2 L250 361.7 L250.5 363.7 L251 364.6 L252 368.1 L253 365.8 L254 368.2 L255 367.1 L256 367.1 L257 365.7 L258 367.3 L259 368.1 L260 362.2 L261 366.4 L262 365.3 L263 369.6 L264 364.2 L265 364.8 L266 367.4 L267 368.2 L268 366.3 L269 363.6 L270 363.7 L271 365.5 L272 365.7 L273 366.2 L274 367.5 L275 367.3 L275.5 363.8 L276 363.0 L276.5 360.1 L277 355.3 L277.5 349.3 L278 341.3 L278.5 334.7 L279 332.2 L279.5 334.7 L280 341.3 L280.5 349.4 L281 356.4 L281.5 363.2 L282 365.5 L282.5 367.9 L283 369.4 L284 364.6 L285 365.8 L286 365.6 L287 363.7 L288 365.6 L289 368.0 L290 365.4 L291 366.5 L292 365.4 L293 367.0 L294 368.3 L295 366.0 L296 366.9 L296.5 364.0 L297 365.2 L297.5 361.6 L298 360.0 L298.5 355.4 L299 351.7 L299.5 348.7 L300 347.1 L300.5 348.5 L301 352.2 L301.5 356.0 L302 359.9 L302.5 364.4 L303 365.8 L303.5 365.2 L304 364.1 L305 364.6 L306 370.0 L307 366.5 L308 365.5 L309 368.2 L310 368.5 L311 366.9 L312 368.7 L313 367.5 L314 366.3 L315 369.4 L316 367.8 L317 365.5 L318 369.9 L319 365.9 L319.5 368.6 L320 364.5 L320.5 364.8 L321 359.8 L321.5 350.3 L322 331.9 L322.5 305.4 L323 275.7 L323.5 253.0 L324 247.1 L324.5 260.6 L325 287.4 L325.5 316.8 L326 340.4 L326.5 354.9 L327 364.0 L327.5 364.0 L328 369.0 L328.5 368.4 L329.5 368.8 L330.5 366.9 L331.5 369.0 L332.5 368.4 L333.5 368.9 L334.5 368.3 L335.5 369.6 L336.5 369.3 L337.5 366.0 L338.5 370.3 L339.5 367.4 L340.5 368.9 L341.5 366.9 L342 369.7 L342.5 367.0 L343 368.0 L343.5 365.7 L344 366.2 L344.5 365.8 L345 367.3 L345.5 364.4 L346 363.9 L346.5 363.6 L347 362.2 L347.5 361.8 L348 359.9 L348.5 358.9 L349 358.4 L349.5 358.6 L350 357.4 L350.5 358.0 L351 359.2 L351.5 359.4 L352 361.1 L352.5 361.0 L353 361.2 L353.5 361.6 L354 364.0 L354.5 366.4 L355 365.3 L355.5 363.7 L356 365.9 L356.5 364.5 L357 365.4 L357.5 364.3 L358 366.0 L359 366.4 L360 368.2 L361 363.6 L362 368.4 L363 370.0 L364 367.1 L365 368.0 L366 365.5 L367 364.9 L368 368.4 L369 368.3 L370 365.5 L371 369.2 L372 367.2 L373 367.6 L374 366.0 L375 368.1 L376 367.1 L377 370.3 L378 367.2 L379 368.2 L380 365.0 L381 369.2 L382 365.4 L383 365.9 L384 369.0 L385 366.7 L386 366.5 L386.5 368.9 L387 367.7 L387.5 365.9 L388 362.4 L388.5 355.4 L389 342.9 L389.5 324.9 L390 304.6 L390.5 288.0 L391 281.5 L391.5 288.0 L392 304.6 L392.5 324.9 L393 342.9 L393.5 355.5 L394 363.6 L394.5 363.9 L395 366.7 L395.5 368.2 L396.5 367.5 L397.5 365.4 L398.5 366.8 L399.5 366.0 L400.5 370.5 L401.5 367.2 L402.5 367.8 L403.5 366.5 L404.5 367.2 L405.5 369.6 L406.5 370.5 L407.5 368.9 L408.5 370.5 L409.5 368.4 L410.5 365.9 L411.5 368.3 L412.5 368.8 L413.5 367.5 L414.5 366.0 L415.5 364.0 L416.5 366.2 L417.5 370.2 L418.5 370.2 L419.5 362.9 L420.5 364.3 L421.5 370.1 L422.5 367.2 L423.5 369.2 L424.5 363.8 L425.5 366.9 L426.5 367.1 L427.5 365.6 L428 366.4 L428.5 365.4 L429 362.2 L429.5 355.9 L430 347.1 L430.5 337.3 L431 329.8 L431.5 327.8 L432 332.3 L432.5 341.2 L433 350.6 L433.5 358.0 L434 362.8 L434.5 368.4 L435 367.5 L435.5 365.6 L436.5 365.1 L437 367.8 L437.5 365.6 L438 365.8 L438.5 368.7 L439 366.2 L439.5 365.3 L440 365.0 L440.5 364.3 L441 361.1 L441.5 361.4 L442 359.8 L442.5 359.9 L443 359.1 L443.5 357.7 L444 356.8 L444.5 356.9 L445 356.5 L445.5 356.7 L446 357.8 L446.5 358.5 L447 359.8 L447.5 359.8 L448 360.3 L448.5 362.2 L449 364.1 L449.5 365.2 L450 365.5 L450.5 364.6 L451 367.4 L451.5 364.4 L452 368.8 L452.5 367.1 L453 365.1 L454 368.1 L455 363.2 L456 370.5 L457 363.4 L458 365.9 L459 364.8 L460 366.1 L461 370.6 L462 366.9 L463 367.5 L464 365.2 L465 369.1 L466 365.4 L467 367.0 L468 368.3 L469 366.6 L470 369.8 L471 366.8 L472 368.8 L473 366.5 L474 368.9 L475 366.9 L476 366.1 L477 366.0 L478 365.9 L479 366.0 L480 368.3 L481 370.3 L482 366.1 L482.5 368.4 L483 367.7 L483.5 366.4 L484 359.2 L484.5 349.6 L485 329.9 L485.5 301.5 L486 269.7 L486.5 245.4 L487 239.0 L487.5 253.5 L488 282.2 L488.5 313.7 L489 339.0 L489.5 354.7 L490 361.6 L490.5 367.6 L491 367.5 L491.5 367.7 L492.5 369.1 L493.5 366.2 L494.5 367.7 L495.5 366.6 L496.5 369.3 L497 365.3 L497.5 367.2 L498 367.1 L498.5 363.6 L499 359.2 L499.5 351.8 L500 343.0 L500.5 334.4 L501 328.2 L501.5 326.6 L502 330.2 L502.5 337.7 L503 346.8 L503.5 354.8 L504 361.8 L504.5 365.2 L505 365.2 L505.5 365.2 L506 364.7 L507 369.0 L508 370.6 L509 365.6 L510 364.5 L511 366.6 L512 370.5 L513 369.5 L514 369.1 L515 368.3 L516 368.4 L516.5 365.9 L517 366.0 L517.5 366.5 L518 366.3 L518.5 363.1 L519 365.4 L519.5 364.0 L520 361.7 L520.5 360.8 L521 359.9 L521.5 357.3 L522 355.5 L522.5 353.7 L523 351.7 L523.5 350.5 L524 349.3 L524.5 348.9 L525 348.5 L525.5 349.2 L526 350.0 L526.5 351.4 L527 353.0 L527.5 355.0 L528 356.6 L528.5 358.7 L529 361.6 L529.5 361.8 L530 364.6 L530.5 363.5 L531 365.1 L531.5 366.6 L532 369.1 L532.5 369.6 L533 368.7 L533.5 367.0 L534 367.8 L534.5 362.9 L535 363.9 L535.5 363.4 L536 362.7 L536.5 360.6 L537 358.8 L537.5 357.0 L538 355.0 L538.5 353.1 L539 352.0 L539.5 350.4 L540 349.5 L540.5 349.4 L541 349.4 L541.5 350.1 L542 351.3 L542.5 352.4 L543 354.4 L543.5 355.7 L544 357.8 L544.5 359.9 L545 361.2 L545.5 363.1 L546 365.3 L546.5 361.2 L547 360.3 L547.5 357.8 L548 356.4 L548.5 352.9 L549 350.1 L549.5 347.4 L550 344.8 L550.5 342.3 L551 340.5 L551.5 339.4 L552 338.9 L552.5 339.4 L553 340.5 L553.5 342.3 L554 344.6 L554.5 347.4 L555 349.9 L555.5 353.4 L556 355.9 L556.5 357.8 L557 361.4 L557.5 361.8 L558 363.4 L558.5 365.6 L559 366.1 L559.5 364.3 L560 366.8 L560.5 365.3 L561 364.6 L561.5 363.1 L562 365.2 L562.5 363.9 L563 362.9 L563.5 361.3 L564 360.0 L564.5 359.4 L565 359.6 L565.5 358.5 L566 359.4 L566.5 359.3 L567 360.5 L567.5 360.3 L568 362.1 L568.5 361.5 L569 362.5 L569.5 362.2 L570 365.3 L570.5 366.9 L571 364.9 L571.5 366.0 L572 367.6 L572.5 369.1 L573 366.0 L573.5 370.3 L574.5 365.9 L575.5 366.9 L576.5 366.7 L577.5 366.6 L578.5 369.7 L579.5 368.8 L580.5 365.7 L581.5 368.9 L582.5 367.7 L583.5 365.6 L584.5 367.1 L585.5 370.6 L586 368.8 L586.5 365.6 L587 367.0 L587.5 365.4 L588 363.0 L588.5 358.5 L589 353.5 L589.5 347.7 L590 343.5 L590.5 341.9 L591 343.4 L591.5 347.8 L592 353.3 L592.5 358.5 L593 362.8 L593.5 365.0 L594 366.0 L594.5 367.2 L595 370.5 L596 368.5 L597 368.3 L598 369.2 L599 366.3 L600 367.0 L601 366.5 L602 366.6 L603 368.8 L604 369.9 L605 369.4 L606 366.1 L607 368.4 L608 368.9 L609 367.6 L610 369.1 L611 368.2 L612 369.5 L613 366.8 L614 369.1 L615 370.7 L616 368.4 L617 366.8 L618 368.4 L619 367.4 L620 367.4 L621 366.6 L622 369.5 L623 366.5 L623.5 365.7 L624 368.8 L624.5 366.7 L625 366.2 L625.5 366.1 L626 367.2 L626.5 365.0 L627 365.8 L627.5 366.9 L628 363.0 L628.5 364.5 L629 363.0 L629.5 363.7 L630 363.1 L630.5 361.3 L631 360.7 L631.5 360.8 L632 359.8 L632.5 359.9 L633 359.7 L633.5 358.5 L634 359.1 L634.5 358.6 L635 358.7 L635.5 359.3 L636 359.3 L636.5 360.3 L637 361.0 L637.5 361.8 L638 362.3 L638.5 363.1 L639 364.6 L639.5 364.7 L640 365.6 L640.5 363.7 L641 365.3 L641.5 367.6 L642 366.6 L642.5 369.3 L643 367.7 L643.5 366.0 L644 368.0 L644.5 366.8 L645 368.8 L646 368.1 L647 369.5 L648 369.6 L649 366.7 L650 367.5 L651 369.3 L652 368.2 L653 369.2 L654 369.0 L655 369.8 L656 367.9 L657 369.7 L658 369.4 L659 366.3 L660 370.2 L661 367.9 L662 367.9 L663 367.1 L664 368.4 L665 370.0 L666 368.4 L667 368.3 L668 370.1 L669 366.8 L670 368.0 L671 368.5 L672 368.0 L673 368.5 L674 368.4 L675 367.0 L676 367.4 L677 367.6 L678 369.9 L679 367.5 L680 368.8 L681 367.6 L682 367.3 L683 369.1 L684 368.3 L685 368.0 L686 369.8 L687 370.5 L688 367.0 L689 369.2 L690 369.5 L691 368.7 L692 367.5 L693 369.8 L694 369.5 L695 367.9 L696 365.9 L697 369.0 L698 370.0 L699 366.8 L699.5 368.3 L700 367.9 L700.5 365.0 L701 363.8 L701.5 359.4 L702 355.4 L702.5 351.4 L703 349.3 L703.5 349.5 L704 352.0 L704.5 355.8 L705 360.5 L705.5 363.6 L706 367.6 L706.5 368.3 L707 368.0 L707.5 370.0 L708.5 369.7 L709.5 368.0 L710.5 367.9 L711.5 368.5 L712.5 367.8 L713 367.7 L713.5 366.3 L714 368.4 L714.5 367.4 L715 368.2 L715.5 365.2 L716 365.5 L716.5 363.8 L717 362.2 L717.5 360.1 L718 358.4 L718.5 356.4 L719 354.4 L719.5 352.7 L720 351.1 L720.5 350.0 L721 349.3 L721.5 349.1 L722 349.4 L722.5 350.3 L723 351.6 L723.5 353.3 L724 355.3 L724.5 357.1 L725 359.6 L725.5 361.6 L726 363.2 L726.5 363.2 L727 365.1 L727.5 365.0 L728 367.6 L728.5 366.5 L729 366.3 L729.5 367.2 L730 368.1 L730.5 367.3 L731.5 366.7 L732.5 369.5 L733.5 369.5 L734.5 367.9 L735.5 366.8 L736.5 369.1 L737.5 367.4 L738.5 369.3 L739.5 367.4 L740.5 367.0 L741.5 370.7 L742.5 367.0 L743.5 367.4 L744.5 368.6 L745.5 368.2 L746.5 369.8 L747.5 368.5 L748.5 367.1 L749.5 370.7 L750.5 368.7 L751.5 368.8 L752 368.6 L752.5 365.9 L753 361.6 L753.5 354.8 L754 343.7 L754.5 330.4 L755 319.3 L755.5 314.8 L756 319.3 L756.5 330.4 L757 343.8 L757.5 355.0 L758 362.2 L758.5 366.4 L759 368.0 L759.5 368.8 L760 369.1 L760.5 366.7 L761 364.2 L761.5 361.2 L762 354.8 L762.5 346.7 L763 338.1 L763.5 331.4 L764 328.9 L764.5 331.4 L765 338.1 L765.5 346.7 L766 354.6 L766.5 360.8 L767 366.2 L767.5 366.7 L768 367.9 L768.5 368.0 L769.5 369.2 L770.5 368.4 L771.5 368.8 L772.5 366.6 L773.5 370.7 L774.5 369.6 L775.5 369.4 L776.5 369.3 L777.5 369.4 L778.5 368.0 L779.5 368.1 L780.5 369.9 L781.5 366.5 L782.5 370.6 L783.5 366.6 L784.5 370.1 L785.5 367.8 L786.5 368.5 L787.5 367.8 L788.5 369.2 L789.5 369.4 L790.5 370.3 L791.5 368.3 L792.5 368.7 L793.5 367.7 L794 367.9 L794.5 366.1 L795 367.8 L795.5 367.3 L796 367.6 L796.5 365.7 L797 364.6 L797.5 365.7 L798 362.8 L798.5 362.1 L799 359.8 L799.5 358.0 L800 356.2 L800.5 354.2 L801 352.3 L801.5 350.6 L802 349.8 L802.5 349.2 L803 349.1 L803.5 349.6 L804 350.5 L804.5 351.8 L805 353.7 L805.5 355.5 L806 357.7 L806.5 359.1 L807 361.4 L807.5 362.6 L808 364.5 L808.5 364.7 L809 366.4 L809.5 367.8 L810 365.8 L810.5 369.8 L811 368.1 L811.5 368.8 L812.5 366.3 L813 368.2 L813.5 368.8 L814 369.1 L814.5 367.6 L815 367.5 L815.5 367.2 L816 366.8 L816.5 364.2 L817 363.9 L817.5 362.6 L818 361.3 L818.5 359.1 L819 356.6 L819.5 354.8 L820 352.5 L820.5 350.8 L821 349.2 L821.5 348.2 L822 347.7 L822.5 347.8 L823 348.4 L823.5 349.5 L824 350.9 L824.5 352.9 L825 355.3 L825.5 356.7 L826 359.3 L826.5 361.4 L827 362.8 L827.5 364.3 L828 365.3 L828.5 366.4 L829 367.1 L829.5 366.4 L830 366.3 L830.5 368.2 L831 366.7 L832 367.3 L833 368.5 L834 369.8 L835 370.0 L836 368.5 L837 369.1 L838 367.6 L839 368.9 L840 368.1 L840.5 368.4 L841 369.4 L841.5 369.2 L842 366.8 L842.5 367.7 L843 367.1 L843.5 366.8 L844 364.6 L844.5 364.0 L845 363.3 L845.5 362.4 L846 359.7 L846.5 359.1 L847 357.9 L847.5 356.6 L848 355.8 L848.5 355.0 L849 354.9 L849.5 355.2 L850 355.5 L850.5 356.6 L851 358.0 L851.5 358.8 L852 360.5 L852.5 362.2 L853 363.9 L853.5 364.6 L854 365.7 L854.5 366.5 L855 367.3 L855.5 366.2 L856 366.8 L856.5 367.8 L857 367.7 L857.5 369.0 L858.5 368.1 L859.5 369.5 L860.5 369.5 L861.5 368.1 L862.5 367.2 L863.5 368.6 L864.5 369.7 L865.5 368.6 L866.5 369.8 L867.5 369.3 L868.5 368.5 L869.5 368.9 L870.5 367.5 L871.5 369.1 L872.5 365.9 L873.5 369.4 L874.5 370.1 L875.5 369.2 L876.5 367.6 L877.5 368.9 L878.5 369.1 L879.5 366.2 L880.5 369.7 L881.5 369.4 L882.5 368.3 L883.5 366.0 L884.5 370.8 L885.5 368.7 L886.5 367.5 L887.5 369.0 L888.5 367.7 L889.5 369.7 L890.5 367.4 L891.5 369.2 L892.5 369.0 L893.5 368.7 L894.5 368.1 L895.5 368.8 L896.5 370.6 L897.5 368.8 L898.5 368.2 L899.5 367.9 L900.5 368.8 L901.5 370.2 L902.5 368.6 L903 366.8 L903.5 367.2 L904 366.3 L904.5 364.1 L905 359.2 L905.5 353.4 L906 346.2 L906.5 339.8 L907 336.2 L907.5 336.6 L908 341.0 L908.5 347.6 L909 354.8 L909.5 360.6 L910 364.4 L910.5 366.1 L911 365.0 L911.5 362.8 L912 358.8 L912.5 353.9 L913 349.6 L913.5 347.1 L914 347.4 L914.5 350.3 L915 354.9 L915.5 359.8 L916 363.1 L916.5 365.3 L917 366.9 L917.5 368.3 L918 367.6 L919 367.0 L920 368.3 L921 368.7 L922 369.6 L923 367.9 L924 367.8 L925 368.4 L926 366.1 L927 368.2 L928 368.4 L929 368.4 L930 368.4 L931 369.2 L932 366.9 L933 370.4 L934 369.4 L935 368.2 L936 366.0 L937 368.8 L938 365.9 L939 366.9 L940 365.3 L941 368.1 L942 369.5 L943 369.5 L944 367.4 L945 367.2 L946 366.5 L947 367.1 L948 368.7 L949 366.2 L950 367.9 L951 366.6 L952 368.7 L953 370.8 L954 365.5 L955 368.3 L956 367.3 L957 365.6 L958 367.6 L959 366.3 L960 366.0 L961 367.6 L962 368.8 L963 365.4 L964 366.9 L965 370.8 L966 367.8 L967 367.3 L968 369.3 L969 364.6 L970 368.1 L971 367.4 L972 370.3 L973 367.4 L974 368.8 L975 366.5 L976 366.5 L977 370.8 L978 369.6 L979 369.5 L980 368.6 L981 367.4 L982 367.4 L983 367.3 L984 366.7 L985 369.9 L986 367.6 L987 368.7 L988 369.2 L989 366.9 L990 367.8 L991 368.8 L992 367.6 L993 369.4 L994 367.7 L995 369.1 L996 370.8 L997 370.6 L998 369.7 L999 368.6 L1000 366.0 L1001 367.9 L1002 367.5 L1003 369.2 L1004 368.1 L1005 370.8 L1006 368.7 L1007 366.5 L1008 367.1 L1009 369.5 L1010 369.9 L1011 369.9 L1012 368.7 L1013 369.6 L1014 370.8 L1015 369.4 L1016 366.1 L1017 368.0 L1018 368.1 L1019 366.3 L1020 370.2 L1021 365.7 L1022 369.7 L1023 366.1 L1024 370.1 L1024.5 368.7 L1025 366.7 L1025.5 365.9 L1026 365.2 L1026.5 366.3 L1027 366.1 L1027.5 367.4 L1028 366.3 L1028.5 366.5 L1029 364.5 L1029.5 363.3 L1030 362.7 L1030.5 362.3 L1031 360.4 L1031.5 359.3 L1032 358.2 L1032.5 358.3 L1033 357.2 L1033.5 356.2 L1034 355.1 L1034.5 354.4 L1035 354.2 L1035.5 354.2 L1036 354.3 L1036.5 354.7 L1037 355.4 L1037.5 356.1 L1038 355.9 L1038.5 357.7 L1039 358.4 L1039.5 359.4 L1040 360.3 L1040.5 361.8 L1041 362.1 L1041.5 362.0 L1042 365.0 L1042.5 365.7 L1043 366.8 L1043.5 366.6 L1044 368.2 L1044.5 366.6 L1045 366.4 L1045.5 365.8 L1046 365.8 L1046.5 368.3 L1047 367.6 L1048 367.9 L1049 367.3 L1050 369.7 L1051 368.3 L1052 370.7 L1053 370.8 L1054 365.8 L1055 366.9 L1056 369.0 L1057 370.8 L1058 367.1 L1059 366.4 L1060 370.4 L1060.5 365.8 L1061 367.6 L1061.5 368.4 L1062 368.1 L1062.5 367.6 L1063 366.5 L1063.5 367.9 L1064 365.8 L1064.5 365.7 L1065 364.0 L1065.5 364.1 L1066 362.5 L1066.5 362.6 L1067 360.8 L1067.5 360.0 L1068 358.3 L1068.5 357.5 L1069 356.3 L1069.5 355.8 L1070 355.0 L1070.5 354.2 L1071 353.9 L1071.5 353.5 L1072 353.2 L1072.5 353.9 L1073 354.2 L1073.5 354.7 L1074 355.1 L1074.5 355.8 L1075 357.6 L1075.5 358.7 L1076 359.5 L1076.5 361.1 L1077 362.9 L1077.5 362.4 L1078 363.4 L1078.5 364.2 L1079 364.7 L1079.5 365.6 L1080 367.1 L1080.5 365.9 L1081 367.1 L1081.5 367.1 L1082 369.1 L1082.5 367.6 L1083 367.9 L1084 369.1 L1085 368.0 L1086 369.7 L1087 369.9 L1088 369.4 L1089 366.4 L1090 370.1 L1091 368.3 L1092 369.5 L1093 369.6 L1094 369.2 L1095 368.1 L1096 369.1 L1097 367.5 L1098 368.0 L1099 366.8 L1100 369.4 L1101 369.0 L1102 367.4 L1103 368.4 L1104 370.0 L1105 368.6 L1106 370.6 L1107 366.1 L1108 367.6 L1109 368.0 L1110 369.3 L1111 368.4 L1112 370.7 L1113 366.8 L1114 367.0 L1115 368.6 L1116 368.1 L1117 369.9 L1118 369.7 L1119 364.5 L1120 367.9 L1121 367.2 L1122 367.4 L1123 368.8 L1124 367.2 L1125 367.5 L1126 368.5 L1127 368.7 L1128 368.0 L1129 370.9 L1130 366.5 L1131 368.9 L1132 368.7 L1133 367.0 L1134 366.5 L1135 370.9 L1136 368.3 L1137 368.0 L1138 368.3 L1139 367.7 L1140 367.3 L1141 368.0 L1142 368.7 L1143 369.1 L1144 370.3 L1145 368.6 L1146 369.1 L1147 368.1 L1148 369.4 L1149 368.0 L1150 368.1 L1151 369.0 L1152 369.6 L1153 365.5 L1154 368.1 L1155 370.6 L1156 370.8 L1157 368.9 L1158 365.9 L1159 368.5 L1160 370.4 L1161 370.1 L1162 369.9 L1163 368.1 L1164 368.9 L1165 367.3 L1166 368.6 L1167 367.6 L1168 366.9 L1169 369.7 L1170 368.7 L1171 370.4 L1172 366.1 L1173 369.7 L1174 366.6 L1175 370.6 L1176 368.7 L1177 370.7 L1178 368.6 L1179 365.5 L1180 366.4 L1181 366.6 L1182 367.2 L1183 368.9 L1184 369.9 L1185 368.5 L1186 369.2 L1187 369.3 L1188 368.7 L1189 369.9 L1190 370.0 L1191 368.3 L1192 368.6" fill="none" stroke="#800080" stroke-width="12.5" stroke-linejoin="round" stroke-linecap="round"/>
<path d="M76 512.1 L80 512.2 L84 512.3 L88 512.4 L92 512.5 L96 512.6 L100 512.8 L104 512.9 L108 513.0 L112 513.1 L116 513.2 L120 513.3 L124 513.4 L128 513.5 L132 513.6 L136 513.7 L140 513.8 L144 513.9 L148 514.0 L152 514.2 L156 514.3 L160 514.4 L164 514.5 L168 514.6 L172 514.7 L176 514.8 L180 514.9 L184 515.0 L188 515.1 L192 515.2 L196 515.3 L200 515.5 L204 515.5 L208 515.6 L212 515.7 L216 515.8 L220 515.9 L224 516.0 L228 516.1 L232 516.2 L236 516.3 L240 516.4 L244 516.5 L248 516.6 L252 516.7 L256 516.8 L260 516.9 L264 517.0 L268 517.1 L272 517.2 L276 517.3 L280 517.4 L284 517.5 L288 517.6 L292 517.7 L296 517.8 L300 517.9 L304 517.9 L308 517.9 L312 518.0 L316 518.0 L320 518.1 L324 518.1 L328 518.2 L332 518.2 L336 518.3 L340 518.3 L344 518.3 L348 518.4 L352 518.4 L356 518.4 L360 518.4 L364 518.5 L368 518.5 L372 518.5 L376 518.5 L380 518.5 L384 518.5 L388 518.5 L392 518.6 L396 518.6 L400 518.6 L404 518.6 L408 518.6 L412 518.6 L416 518.6 L420 518.6 L424 518.7 L428 518.7 L432 518.7 L436 518.7 L440 518.7 L444 518.7 L448 518.7 L452 518.8 L456 518.8 L460 518.8 L464 518.8 L468 518.8 L472 518.8 L476 518.8 L480 518.9 L484 518.9 L488 518.9 L492 518.9 L496 518.9 L500 518.9 L504 518.9 L508 518.9 L512 519.0 L516 519.0 L520 519.0 L524 519.0 L528 519.0 L532 519.0 L536 519.0 L540 519.0 L544 519.1 L548 519.1 L552 519.1 L556 519.1 L560 519.1 L564 519.1 L568 519.1 L572 519.2 L576 519.2 L580 519.2 L584 519.2 L588 519.2 L592 519.2 L596 519.2 L600 519.2 L604 519.2 L608 519.2 L612 519.2 L616 519.2 L620 519.2 L624 519.2 L628 519.2 L632 519.2 L636 519.1 L640 519.1 L644 519.1 L648 519.1 L652 519.1 L656 519.1 L660 519.1 L664 519.1 L668 519.0 L672 519.0 L676 519.0 L680 519.0 L684 519.0 L688 519.0 L692 519.0 L696 519.0 L700 519.0 L704 518.9 L708 518.9 L712 518.9 L716 518.9 L720 518.9 L724 518.9 L728 518.9 L732 518.9 L736 518.9 L740 518.9 L744 518.9 L748 518.9 L752 518.9 L756 518.9 L760 518.9 L764 518.9 L768 518.9 L772 518.9 L776 518.9 L780 518.9 L784 518.9 L788 518.9 L792 518.9 L796 518.9 L800 518.9 L804 518.9 L808 518.9 L812 518.9 L816 518.9 L820 518.9 L824 518.9 L828 518.9 L832 518.9 L836 518.9 L840 518.9 L844 518.9 L848 518.9 L852 518.9 L856 518.9 L860 518.9 L864 518.9 L868 518.9 L872 518.9 L876 518.9 L880 518.9 L884 518.9 L888 518.9 L892 518.9 L896 518.9 L900 518.9 L904 518.8 L908 518.8 L912 518.8 L916 518.8 L920 518.8 L924 518.8 L928 518.8 L932 518.8 L936 518.8 L940 518.8 L944 518.8 L948 518.8 L952 518.8 L956 518.8 L960 518.8 L964 518.8 L968 518.8 L972 518.8 L976 518.8 L980 518.8 L984 518.8 L988 518.8 L992 518.8 L996 518.8 L1000 518.8 L1004 518.8 L1008 518.8 L1012 518.8 L1016 518.8 L1020 518.8 L1024 518.8 L1028 518.8 L1032 518.8 L1036 518.8 L1040 518.8 L1044 518.8 L1048 518.8 L1052 518.8 L1056 518.8 L1060 518.8 L1064 518.8 L1068 518.8 L1072 518.8 L1076 518.8 L1080 518.8 L1084 518.8 L1088 518.8 L1092 518.8 L1096 518.8 L1100 518.8 L1104 518.8 L1108 518.8 L1112 518.8 L1116 518.8 L1120 518.8 L1124 518.8 L1128 518.8 L1132 518.8 L1136 518.8 L1140 518.8 L1144 518.8 L1148 518.8 L1152 518.8 L1156 518.8 L1160 518.8 L1164 518.8 L1168 518.8 L1172 518.8 L1176 518.8 L1180 518.8 L1184 518.8 L1188 518.8 L1192 518.8" fill="none" stroke="#FF00FF" stroke-width="10.0"/><path d="M74 505.1 L74.5 504.5 L75 504.7 L75.5 503.8 L76 506.0 L76.5 504.5 L77 504.8 L77.5 505.4 L78 503.6 L78.5 507.0 L79 506.5 L79.5 509.3 L80 507.2 L80.5 510.9 L81 511.6 L81.5 504.8 L82 508.5 L82.5 510.4 L83 510.5 L83.5 514.8 L84 514.3 L84.5 510.3 L85 515.0 L85.5 510.0 L86 513.7 L86.5 509.4 L87 511.2 L87.5 505.6 L88 506.4 L88.5 508.1 L89 509.0 L89.5 507.2 L90 505.9 L90.5 506.5 L91 504.8 L91.5 504.0 L92 504.9 L92.5 505.4 L93 504.3 L93.5 505.7 L94 504.9 L94.5 506.7 L95 504.8 L95.5 507.8 L96 509.6 L96.5 508.5 L97 510.4 L97.5 511.6 L98 510.6 L98.5 509.2 L99 515.1 L99.5 511.8 L100 512.4 L100.5 512.6 L101 510.3 L101.5 516.2 L102 511.0 L102.5 513.6 L103.5 513.7 L104.5 514.7 L105.5 507.1 L106.5 510.8 L107.5 514.6 L108.5 507.3 L109.5 510.9 L110.5 512.5 L111.5 509.4 L112.5 509.6 L113.5 512.4 L114.5 512.9 L115.5 514.7 L116.5 509.3 L117.5 512.7 L118.5 513.4 L119.5 512.7 L120.5 516.3 L121.5 511.7 L122.5 512.8 L123.5 517.9 L124.5 516.1 L125.5 516.7 L126.5 513.1 L127.5 515.5 L128.5 511.8 L129.5 514.5 L130.5 514.9 L131.5 513.7 L132.5 514.1 L133.5 515.4 L134.5 513.3 L135.5 513.0 L136.5 513.4 L137.5 511.6 L138.5 514.2 L139.5 517.2 L140.5 511.0 L141.5 510.4 L142.5 517.2 L143.5 515.9 L144.5 512.5 L145.5 514.0 L146.5 513.3 L147.5 515.9 L148.5 513.1 L149.5 512.3 L150.5 514.5 L151.5 510.7 L152.5 508.8 L153.5 515.1 L154.5 513.0 L155.5 514.6 L156.5 512.8 L157.5 513.3 L158.5 516.6 L159.5 515.0 L160.5 515.7 L161.5 514.7 L162.5 514.0 L163.5 513.2 L164.5 517.6 L165.5 514.3 L166.5 513.0 L167.5 511.4 L168.5 513.7 L169.5 510.5 L170.5 512.8 L171.5 511.7 L172.5 513.0 L173.5 517.1 L174.5 513.9 L175.5 512.5 L176.5 519.1 L177.5 515.3 L178.5 518.3 L179.5 517.6 L180.5 512.9 L181.5 516.7 L182.5 515.4 L183.5 516.2 L184.5 516.9 L185.5 513.4 L186 516.6 L186.5 514.3 L187 516.1 L187.5 510.8 L188 507.5 L188.5 504.5 L189 499.1 L189.5 494.6 L190 492.0 L190.5 492.0 L191 495.2 L191.5 499.9 L192 505.0 L192.5 509.3 L193 508.8 L193.5 517.3 L194 515.4 L194.5 516.1 L195.5 513.7 L196.5 518.4 L197.5 514.4 L198.5 513.6 L199.5 516.6 L200.5 513.9 L201.5 517.2 L202.5 517.0 L203.5 517.7 L204.5 515.7 L205.5 516.1 L206.5 515.4 L207.5 518.2 L208.5 513.3 L209.5 515.4 L210.5 519.6 L211.5 518.1 L212.5 516.2 L213.5 518.9 L214.5 519.6 L215.5 512.9 L216.5 514.1 L217.5 516.3 L218.5 515.7 L219.5 519.7 L220.5 519.0 L221.5 515.4 L222.5 518.8 L223.5 518.4 L224.5 513.8 L225.5 517.4 L226.5 518.8 L227.5 512.7 L228.5 514.0 L229.5 515.5 L230.5 517.1 L231.5 511.3 L232.5 516.2 L233.5 515.9 L234.5 519.0 L235.5 516.0 L236.5 515.0 L237.5 516.4 L238.5 514.8 L239.5 513.6 L240.5 518.3 L241.5 519.4 L242 515.7 L242.5 516.7 L243 513.9 L243.5 510.5 L244 503.6 L244.5 489.2 L245 468.5 L245.5 445.4 L246 427.7 L246.5 423.1 L247 433.6 L247.5 454.5 L248 477.5 L248.5 495.7 L249 507.5 L249.5 511.6 L250 517.4 L250.5 516.1 L251 516.0 L252 516.0 L253 518.7 L254 517.8 L255 516.3 L256 518.0 L257 520.0 L258 516.1 L259 517.3 L260 518.1 L261 517.7 L262 514.5 L263 518.1 L264 517.3 L265 518.0 L266 518.3 L267 514.1 L268 519.3 L269 515.8 L270 516.1 L271 516.2 L272 518.3 L273 516.9 L274 516.4 L274.5 519.2 L275 519.2 L275.5 514.8 L276 516.3 L276.5 511.1 L277 508.1 L277.5 503.7 L278 498.2 L278.5 494.0 L279 492.4 L279.5 494.0 L280 498.0 L280.5 504.0 L281 508.7 L281.5 514.0 L282 515.5 L282.5 514.6 L283 517.8 L283.5 518.6 L284.5 516.9 L285.5 517.9 L286.5 517.1 L287.5 514.0 L288.5 517.3 L289.5 516.5 L290.5 519.1 L291.5 519.2 L292.5 518.0 L293.5 519.0 L294.5 515.7 L295 516.9 L295.5 516.4 L296 516.3 L296.5 515.8 L297 513.0 L297.5 509.6 L298 505.6 L298.5 501.1 L299 498.1 L299.5 497.2 L300 499.1 L300.5 502.8 L301 507.6 L301.5 511.8 L302 515.4 L302.5 514.9 L303 516.6 L303.5 517.4 L304.5 519.1 L305.5 518.7 L306.5 518.3 L307.5 515.9 L308.5 518.8 L309.5 518.0 L310.5 517.6 L311.5 515.5 L312.5 519.1 L313.5 519.0 L314.5 518.2 L315.5 517.6 L316.5 518.1 L317.5 515.2 L318.5 515.7 L319.5 520.6 L320.5 517.4 L321 517.5 L321.5 516.3 L322 511.7 L322.5 502.8 L323 485.2 L323.5 458.4 L324 426.5 L324.5 399.8 L325 389.2 L325.5 399.8 L326 426.5 L326.5 458.4 L327 485.3 L327.5 502.7 L328 512.5 L328.5 516.4 L329 518.1 L329.5 518.1 L330.5 515.2 L331.5 519.7 L332.5 520.7 L333.5 517.0 L334.5 517.7 L335.5 517.7 L336.5 517.9 L337.5 516.9 L338.5 520.6 L339.5 519.9 L340.5 518.7 L341.5 516.7 L342.5 518.7 L343 518.7 L343.5 517.0 L344 518.7 L344.5 516.7 L345 518.5 L345.5 515.3 L346 515.4 L346.5 516.3 L347 515.2 L347.5 513.8 L348 513.1 L348.5 513.7 L349 512.1 L349.5 511.0 L350 511.9 L350.5 512.4 L351 511.2 L351.5 512.1 L352 512.6 L352.5 513.0 L353 515.0 L353.5 515.3 L354 516.4 L354.5 517.1 L355 516.9 L355.5 518.2 L356 515.5 L356.5 517.1 L357 516.9 L357.5 520.3 L358 518.5 L359 518.1 L360 519.5 L361 517.1 L362 515.6 L363 519.6 L364 517.8 L365 518.8 L366 517.0 L367 519.7 L368 518.8 L369 518.9 L370 518.8 L371 517.7 L372 519.3 L373 519.8 L374 517.7 L375 518.2 L376 518.2 L377 519.7 L378 519.5 L379 518.0 L380 518.0 L381 519.6 L382 517.6 L383 517.9 L384 520.0 L385 517.0 L386 518.9 L387 517.9 L387.5 519.1 L388 515.1 L388.5 515.1 L389 510.2 L389.5 500.8 L390 486.0 L390.5 467.4 L391 449.7 L391.5 439.3 L392 440.6 L392.5 452.9 L393 471.3 L393.5 489.4 L394 503.3 L394.5 511.8 L395 515.2 L395.5 516.4 L396 518.7 L397 521.0 L398 519.5 L399 517.6 L399.5 520.5 L400 517.1 L400.5 515.8 L401 512.6 L401.5 510.9 L402 505.9 L402.5 500.9 L403 497.2 L403.5 495.8 L404 497.2 L404.5 501.2 L405 506.0 L405.5 510.4 L406 513.3 L406.5 515.9 L407 516.7 L407.5 516.9 L408 519.6 L409 517.3 L410 519.9 L411 518.4 L412 521.0 L413 515.9 L414 518.8 L415 519.0 L416 519.2 L417 520.2 L418 518.3 L419 519.2 L420 518.6 L421 519.3 L422 517.9 L423 520.4 L424 520.6 L425 517.3 L426 517.0 L427 519.3 L427.5 518.2 L428 518.5 L428.5 515.1 L429 514.0 L429.5 506.6 L430 497.7 L430.5 487.6 L431 479.8 L431.5 477.8 L432 482.4 L432.5 491.5 L433 501.8 L433.5 508.9 L434 515.5 L434.5 518.6 L435 517.1 L435.5 519.5 L436.5 518.5 L437 519.6 L437.5 516.2 L438 516.2 L438.5 517.5 L439 515.6 L439.5 516.8 L440 516.0 L440.5 515.8 L441 515.9 L441.5 514.4 L442 514.0 L442.5 512.6 L443 512.2 L443.5 512.2 L444 511.1 L444.5 511.5 L445 511.0 L445.5 512.4 L446 512.9 L446.5 513.8 L447 513.9 L447.5 514.8 L448 515.4 L448.5 514.5 L449 515.9 L449.5 517.8 L450 517.1 L450.5 518.1 L451 517.8 L451.5 517.2 L452 516.4 L452.5 515.2 L453 514.3 L453.5 514.2 L454 513.9 L454.5 512.6 L455 511.9 L455.5 511.3 L456 511.2 L456.5 510.5 L457 511.2 L457.5 510.2 L458 510.8 L458.5 511.3 L459 512.9 L459.5 513.1 L460 513.2 L460.5 515.0 L461 516.5 L461.5 516.4 L462 518.7 L462.5 516.4 L463 517.3 L463.5 519.7 L464 517.5 L464.5 517.1 L465 517.8 L466 516.8 L467 517.0 L468 519.7 L469 520.1 L470 519.7 L471 518.4 L472 516.6 L473 519.0 L474 519.6 L475 517.3 L476 520.6 L477 518.8 L478 520.5 L479 520.7 L480 520.3 L480.5 519.3 L481 520.7 L481.5 516.9 L482 514.6 L482.5 508.0 L483 494.0 L483.5 472.1 L484 444.6 L484.5 419.6 L485 407.0 L485.5 412.6 L486 433.8 L486.5 461.4 L487 486.2 L487.5 503.1 L488 512.0 L488.5 516.9 L489 519.7 L489.5 520.1 L490.5 520.0 L491.5 520.0 L492.5 517.4 L493.5 519.9 L494.5 518.9 L495.5 520.1 L496.5 519.6 L497 519.8 L497.5 516.7 L498 515.2 L498.5 512.8 L499 506.5 L499.5 499.1 L500 491.2 L500.5 485.2 L501 482.9 L501.5 485.2 L502 491.2 L502.5 499.1 L503 506.7 L503.5 512.5 L504 515.0 L504.5 515.8 L505 518.6 L505.5 518.3 L506.5 519.7 L507.5 519.6 L508.5 518.8 L509.5 518.7 L510.5 519.3 L511.5 517.7 L512.5 520.9 L513.5 520.2 L514.5 519.3 L515.5 519.3 L516 519.5 L516.5 516.5 L517 520.0 L517.5 518.8 L518 518.4 L518.5 516.9 L519 517.4 L519.5 515.3 L520 514.0 L520.5 511.7 L521 510.9 L521.5 509.4 L522 507.6 L522.5 505.6 L523 504.4 L523.5 503.1 L524 502.1 L524.5 501.6 L525 501.4 L525.5 502.0 L526 502.9 L526.5 504.1 L527 505.8 L527.5 507.2 L528 509.2 L528.5 510.6 L529 512.2 L529.5 513.0 L530 513.9 L530.5 516.8 L531 518.2 L531.5 518.7 L532 517.5 L532.5 517.8 L533 518.6 L533.5 518.7 L534 516.7 L534.5 517.1 L535 517.3 L535.5 516.3 L536 517.2 L536.5 514.1 L537 512.4 L537.5 511.9 L538 510.3 L538.5 507.9 L539 506.3 L539.5 504.2 L540 502.4 L540.5 500.9 L541 499.8 L541.5 499.4 L542 499.3 L542.5 499.6 L543 500.6 L543.5 502.1 L544 503.9 L544.5 505.8 L545 507.7 L545.5 510.1 L546 511.5 L546.5 513.6 L547 513.3 L547.5 513.3 L548 511.5 L548.5 509.0 L549 506.4 L549.5 503.5 L550 500.5 L550.5 497.3 L551 494.2 L551.5 491.6 L552 489.4 L552.5 488.0 L553 487.4 L553.5 487.6 L554 488.8 L554.5 490.7 L555 493.2 L555.5 496.1 L556 499.1 L556.5 502.2 L557 505.4 L557.5 508.3 L558 510.2 L558.5 512.3 L559 515.6 L559.5 515.9 L560 514.7 L560.5 518.0 L561 518.9 L561.5 519.2 L562 516.9 L562.5 519.4 L563.5 517.6 L564.5 519.1 L565.5 520.6 L566.5 520.7 L567.5 517.7 L568.5 519.4 L569.5 519.0 L570.5 518.5 L571.5 519.3 L572.5 521.3 L573.5 517.3 L574.5 518.3 L575.5 520.2 L576.5 519.3 L577.5 519.8 L578.5 520.0 L579.5 518.7 L580.5 518.0 L581.5 518.3 L582.5 520.1 L583.5 520.0 L584.5 518.6 L585.5 519.6 L586 517.4 L586.5 518.4 L587 519.0 L587.5 516.3 L588 514.5 L588.5 510.9 L589 505.7 L589.5 500.3 L590 496.2 L590.5 494.7 L591 496.2 L591.5 500.5 L592 505.6 L592.5 510.2 L593 515.2 L593.5 517.9 L594 519.1 L594.5 519.1 L595 520.0 L596 520.4 L597 518.6 L598 519.9 L599 521.0 L600 519.2 L601 519.4 L601.5 518.2 L602 517.0 L602.5 516.4 L603 516.5 L603.5 518.6 L604 517.2 L604.5 516.5 L605 515.9 L605.5 515.5 L606 515.3 L606.5 514.7 L607 515.0 L607.5 513.4 L608 513.4 L608.5 513.7 L609 512.6 L609.5 513.7 L610 514.4 L610.5 514.1 L611 514.7 L611.5 515.1 L612 516.2 L612.5 516.1 L613 517.1 L613.5 516.5 L614 517.7 L614.5 519.2 L615 519.7 L615.5 518.1 L616 517.8 L617 518.4 L618 518.8 L619 520.5 L620 520.1 L621 519.0 L622 516.8 L623 519.4 L623.5 518.7 L624 518.0 L624.5 519.6 L625 519.7 L625.5 517.7 L626 517.2 L626.5 516.6 L627 516.0 L627.5 517.1 L628 514.5 L628.5 514.6 L629 512.5 L629.5 513.0 L630 512.7 L630.5 511.1 L631 510.1 L631.5 509.3 L632 508.6 L632.5 508.2 L633 508.0 L633.5 507.4 L634 507.3 L634.5 507.5 L635 507.6 L635.5 508.1 L636 509.1 L636.5 509.6 L637 510.4 L637.5 511.1 L638 511.2 L638.5 512.8 L639 513.4 L639.5 515.7 L640 514.4 L640.5 516.4 L641 516.1 L641.5 518.1 L642 517.5 L642.5 517.0 L643 518.2 L643.5 518.2 L644 519.5 L644.5 519.6 L645 518.5 L646 518.8 L647 519.5 L648 517.3 L649 519.9 L650 517.9 L651 517.7 L652 520.3 L653 518.0 L654 519.9 L655 520.5 L656 517.8 L657 519.6 L658 518.0 L659 521.2 L660 517.4 L661 517.9 L662 517.2 L663 519.0 L664 516.4 L665 520.4 L666 518.9 L667 518.5 L668 517.8 L669 518.8 L670 518.1 L671 517.3 L672 516.5 L673 517.5 L674 519.9 L675 519.8 L676 516.9 L677 519.4 L678 518.0 L679 518.9 L680 518.6 L681 519.4 L682 519.0 L683 517.3 L684 519.7 L685 520.0 L686 518.8 L687 518.8 L688 517.8 L689 518.6 L690 519.1 L691 518.3 L692 519.6 L693 518.4 L694 518.6 L695 519.2 L696 520.9 L697 519.9 L698 517.1 L699 517.4 L699.5 518.4 L700 517.7 L700.5 515.9 L701 513.3 L701.5 508.3 L702 503.2 L702.5 498.6 L703 496.2 L703.5 496.4 L704 499.6 L704.5 504.4 L705 509.1 L705.5 513.0 L706 517.0 L706.5 516.5 L707 519.2 L707.5 518.4 L708.5 517.9 L709.5 517.6 L710.5 518.7 L711.5 518.9 L712.5 518.7 L713.5 516.6 L714.5 519.7 L715.5 516.3 L716 517.9 L716.5 518.1 L717 516.7 L717.5 516.5 L718 517.9 L718.5 516.7 L719 513.8 L719.5 514.2 L720 512.5 L720.5 511.3 L721 508.9 L721.5 508.4 L722 506.6 L722.5 505.6 L723 504.7 L723.5 504.3 L724 504.1 L724.5 504.3 L725 504.9 L725.5 506.3 L726 507.2 L726.5 508.9 L727 510.2 L727.5 511.8 L728 513.1 L728.5 514.5 L729 515.0 L729.5 516.3 L730 518.7 L730.5 519.6 L731 519.7 L731.5 518.0 L732 520.7 L732.5 520.0 L733.5 519.3 L734.5 518.4 L735.5 519.6 L736.5 521.4 L737.5 518.2 L738.5 517.7 L739.5 521.4 L740.5 517.0 L741.5 519.9 L742.5 519.4 L743.5 520.1 L744.5 518.8 L745.5 516.7 L746.5 518.6 L747.5 520.9 L748.5 521.4 L749.5 520.2 L750.5 521.1 L751.5 518.2 L752.5 519.0 L753 517.6 L753.5 516.7 L754 514.8 L754.5 510.8 L755 502.5 L755.5 493.4 L756 484.5 L756.5 479.4 L757 480.0 L757.5 486.1 L758 495.2 L758.5 504.6 L759 511.4 L759.5 514.2 L760 518.5 L760.5 517.6 L761 519.0 L762 517.6 L763 518.0 L764 517.5 L765 519.0 L766 518.3 L767 519.2 L768 520.5 L769 518.5 L770 518.9 L771 518.6 L772 517.5 L773 518.6 L774 520.5 L775 515.7 L776 517.5 L777 520.9 L778 521.4 L779 517.7 L780 518.5 L781 518.0 L782 517.8 L783 518.3 L784 520.1 L785 520.4 L786 519.9 L787 517.1 L788 519.3 L789 518.9 L790 516.8 L791 516.5 L792 518.3 L792.5 516.7 L793 517.4 L793.5 515.6 L794 512.8 L794.5 509.0 L795 503.6 L795.5 498.5 L796 495.3 L796.5 494.9 L797 497.6 L797.5 502.2 L798 507.6 L798.5 511.7 L799 515.1 L799.5 518.2 L800 518.6 L800.5 520.7 L801.5 518.4 L802.5 518.8 L803.5 520.6 L804 518.7 L804.5 520.1 L805 517.6 L805.5 514.3 L806 512.7 L806.5 509.1 L807 505.8 L807.5 503.8 L808 504.2 L808.5 506.3 L809 509.1 L809.5 512.5 L810 515.6 L810.5 517.6 L811 517.5 L811.5 518.8 L812 517.8 L813 517.8 L814 517.3 L815 519.9 L816 518.4 L817 520.6 L818 518.7 L819 520.3 L819.5 519.3 L820 519.5 L820.5 517.8 L821 515.8 L821.5 511.8 L822 508.5 L822.5 503.3 L823 500.4 L823.5 499.1 L824 500.5 L824.5 503.5 L825 508.0 L825.5 512.2 L826 515.8 L826.5 516.4 L827 517.6 L827.5 519.5 L828.5 520.1 L829.5 518.7 L830.5 519.3 L831.5 519.5 L832.5 519.0 L833.5 519.8 L834.5 518.5 L835.5 519.3 L836.5 520.3 L837.5 516.8 L838.5 519.9 L839.5 518.1 L840.5 516.1 L841.5 518.7 L842 517.7 L842.5 516.4 L843 520.2 L843.5 518.9 L844 518.4 L844.5 519.0 L845 516.6 L845.5 515.8 L846 514.2 L846.5 513.4 L847 512.4 L847.5 511.4 L848 510.8 L848.5 508.7 L849 508.4 L849.5 508.4 L850 508.3 L850.5 508.0 L851 508.1 L851.5 508.9 L852 509.5 L852.5 510.4 L853 511.7 L853.5 513.5 L854 514.4 L854.5 516.4 L855 515.0 L855.5 517.1 L856 517.0 L856.5 515.2 L857 519.0 L857.5 518.3 L858 519.6 L858.5 521.1 L859.5 518.9 L860.5 517.8 L861.5 517.9 L862.5 519.8 L863.5 518.7 L864.5 515.5 L865.5 516.7 L866.5 518.0 L867.5 519.1 L868.5 518.9 L869.5 516.9 L870.5 519.7 L871.5 517.3 L872.5 518.6 L873.5 520.1 L874.5 519.4 L875.5 518.6 L876.5 519.0 L877.5 520.2 L878.5 519.0 L879.5 518.0 L880.5 520.5 L881.5 519.2 L882.5 521.0 L883.5 520.4 L884.5 521.4 L885.5 519.6 L886.5 519.5 L887.5 521.0 L888.5 517.1 L889.5 517.0 L890.5 518.7 L891.5 521.4 L892.5 518.6 L893.5 518.6 L894.5 519.3 L895.5 517.7 L896.5 521.4 L897.5 517.2 L898.5 520.4 L899.5 519.4 L900 518.2 L900.5 517.6 L901 515.5 L901.5 512.9 L902 507.9 L902.5 502.5 L903 497.5 L903.5 494.1 L904 493.8 L904.5 496.6 L905 501.6 L905.5 507.0 L906 511.9 L906.5 515.7 L907 518.0 L907.5 517.3 L908 519.3 L909 519.5 L910 517.5 L910.5 517.3 L911 519.9 L911.5 516.7 L912 517.5 L912.5 515.8 L913 517.5 L913.5 515.7 L914 514.9 L914.5 513.3 L915 514.2 L915.5 512.1 L916 510.8 L916.5 509.6 L917 508.6 L917.5 507.4 L918 506.6 L918.5 505.7 L919 506.0 L919.5 506.1 L920 507.0 L920.5 507.7 L921 508.8 L921.5 510.0 L922 512.0 L922.5 512.6 L923 512.1 L923.5 514.9 L924 517.0 L924.5 514.3 L925 516.7 L925.5 517.3 L926 520.0 L926.5 518.7 L927 518.8 L927.5 518.8 L928.5 517.9 L929.5 517.3 L930.5 519.4 L931.5 518.4 L932.5 520.9 L933.5 519.2 L934.5 517.2 L935.5 520.1 L936.5 520.2 L937.5 520.4 L938.5 520.3 L939.5 521.4 L940.5 519.0 L941.5 519.4 L942.5 518.4 L943.5 518.1 L944.5 519.6 L945.5 517.1 L946.5 518.6 L947.5 516.9 L948.5 518.1 L949.5 518.2 L950.5 519.5 L951.5 518.6 L952.5 518.2 L953.5 520.6 L954.5 518.5 L955.5 519.9 L956.5 520.1 L957.5 516.7 L958.5 518.2 L959.5 517.6 L960.5 518.9 L961.5 519.8 L962.5 517.5 L963.5 520.2 L964.5 517.9 L965.5 519.9 L966.5 516.3 L967.5 519.3 L968.5 519.0 L969.5 518.5 L970.5 517.4 L971.5 518.4 L972.5 519.6 L973.5 520.1 L974.5 518.3 L975.5 518.4 L976.5 518.4 L977.5 517.9 L978 517.7 L978.5 515.5 L979 519.6 L979.5 516.8 L980 519.1 L980.5 516.3 L981 516.9 L981.5 516.5 L982 516.5 L982.5 516.0 L983 517.4 L983.5 516.1 L984 512.9 L984.5 513.8 L985 513.3 L985.5 512.2 L986 511.4 L986.5 511.2 L987 510.3 L987.5 510.1 L988 510.4 L988.5 509.9 L989 509.6 L989.5 510.4 L990 510.3 L990.5 511.0 L991 511.3 L991.5 512.5 L992 512.3 L992.5 513.4 L993 513.0 L993.5 514.6 L994 513.4 L994.5 514.6 L995 516.9 L995.5 514.5 L996 516.9 L996.5 517.0 L997 519.3 L997.5 518.1 L998 519.0 L998.5 520.0 L999 520.0 L999.5 516.8 L1000.5 518.8 L1001.5 519.4 L1002.5 519.0 L1003.5 517.7 L1004.5 519.1 L1005.5 518.1 L1006.5 519.3 L1007.5 519.1 L1008.5 516.9 L1009.5 517.1 L1010.5 517.7 L1011.5 517.7 L1012.5 521.1 L1013.5 518.7 L1014.5 521.4 L1015.5 519.2 L1016.5 519.2 L1017.5 520.6 L1018.5 519.2 L1019.5 518.6 L1020.5 518.3 L1021.5 518.5 L1022.5 519.5 L1023.5 519.3 L1024.5 520.8 L1025.5 519.1 L1026.5 519.8 L1027 518.3 L1027.5 519.1 L1028 520.5 L1028.5 518.4 L1029 516.9 L1029.5 514.5 L1030 517.5 L1030.5 514.8 L1031 513.7 L1031.5 512.3 L1032 511.0 L1032.5 509.0 L1033 507.6 L1033.5 506.7 L1034 505.5 L1034.5 504.3 L1035 503.9 L1035.5 503.5 L1036 503.6 L1036.5 504.4 L1037 505.3 L1037.5 506.7 L1038 508.0 L1038.5 509.4 L1039 511.6 L1039.5 512.0 L1040 514.6 L1040.5 515.0 L1041 515.8 L1041.5 517.9 L1042 517.9 L1042.5 519.3 L1043 517.0 L1043.5 518.7 L1044 520.7 L1045 519.4 L1046 519.1 L1047 520.6 L1048 519.2 L1049 517.1 L1050 519.2 L1051 519.9 L1052 517.5 L1053 519.3 L1054 520.3 L1055 517.0 L1056 516.6 L1057 519.5 L1058 520.6 L1059 519.8 L1060 518.9 L1061 517.0 L1062 517.2 L1063 517.1 L1063.5 519.7 L1064 518.8 L1064.5 520.3 L1065 516.1 L1065.5 518.7 L1066 516.5 L1066.5 517.7 L1067 517.0 L1067.5 516.1 L1068 517.6 L1068.5 515.5 L1069 515.6 L1069.5 515.4 L1070 513.2 L1070.5 513.4 L1071 511.9 L1071.5 512.0 L1072 511.6 L1072.5 511.2 L1073 510.5 L1073.5 510.4 L1074 509.6 L1074.5 510.2 L1075 509.5 L1075.5 510.5 L1076 510.7 L1076.5 511.4 L1077 510.5 L1077.5 513.3 L1078 512.4 L1078.5 512.8 L1079 513.4 L1079.5 513.4 L1080 514.2 L1080.5 517.6 L1081 516.4 L1081.5 518.1 L1082 517.6 L1082.5 518.0 L1083 516.6 L1083.5 517.1 L1084 518.4 L1084.5 519.6 L1085 518.1 L1086 519.3 L1087 516.9 L1088 517.0 L1089 519.5 L1090 518.3 L1091 520.6 L1092 520.3 L1093 517.3 L1094 517.7 L1095 519.0 L1095.5 518.5 L1096 517.6 L1096.5 520.5 L1097 519.1 L1097.5 517.1 L1098 517.4 L1098.5 516.2 L1099 517.6 L1099.5 516.3 L1100 516.3 L1100.5 516.0 L1101 513.9 L1101.5 512.6 L1102 513.7 L1102.5 512.3 L1103 511.7 L1103.5 510.9 L1104 511.5 L1104.5 511.6 L1105 510.5 L1105.5 511.0 L1106 511.4 L1106.5 511.1 L1107 511.3 L1107.5 511.6 L1108 512.4 L1108.5 513.9 L1109 514.6 L1109.5 513.7 L1110 513.6 L1110.5 514.8 L1111 516.8 L1111.5 515.4 L1112 517.8 L1112.5 515.7 L1113 517.2 L1113.5 516.7 L1114 519.1 L1114.5 517.4 L1115 520.8 L1115.5 516.8 L1116 520.3 L1117 517.4 L1118 518.6 L1119 516.9 L1120 520.8 L1121 515.0 L1122 517.1 L1123 518.2 L1124 518.3 L1125 519.8 L1126 520.0 L1127 518.9 L1128 515.6 L1129 517.7 L1130 518.8 L1131 518.8 L1132 517.9 L1133 518.3 L1134 519.5 L1135 521.4 L1136 516.1 L1137 520.2 L1138 518.2 L1139 521.4 L1140 518.0 L1141 520.7 L1142 519.5 L1143 520.3 L1144 519.1 L1145 518.3 L1146 516.8 L1147 519.7 L1148 518.5 L1149 519.0 L1150 516.9 L1151 517.2 L1152 518.8 L1152.5 519.4 L1153 520.2 L1153.5 517.0 L1154 518.3 L1154.5 516.1 L1155 515.8 L1155.5 516.6 L1156 516.8 L1156.5 515.4 L1157 514.3 L1157.5 515.6 L1158 514.4 L1158.5 513.2 L1159 514.7 L1159.5 513.0 L1160 513.1 L1160.5 512.2 L1161 511.7 L1161.5 512.0 L1162 511.5 L1162.5 510.8 L1163 511.4 L1163.5 511.6 L1164 512.1 L1164.5 512.5 L1165 512.3 L1165.5 513.6 L1166 514.2 L1166.5 514.9 L1167 515.2 L1167.5 515.3 L1168 516.0 L1168.5 516.6 L1169 514.2 L1169.5 518.4 L1170 517.2 L1170.5 516.8 L1171 517.9 L1171.5 517.9 L1172 520.0 L1172.5 518.2 L1173 517.3 L1174 517.9 L1175 518.5 L1176 520.8 L1177 515.3 L1178 516.2 L1179 519.8 L1180 518.6 L1181 521.4 L1182 521.2 L1183 517.5 L1184 518.0 L1185 521.4 L1186 517.9 L1187 518.6 L1188 519.5 L1189 516.2 L1190 521.4 L1191 517.8 L1192 516.7" fill="none" stroke="#FF00FF" stroke-width="12.5" stroke-linejoin="round" stroke-linecap="round"/>
<path d="M76 720.5 L80 720.5 L84 720.6 L88 720.7 L92 720.7 L96 720.8 L100 720.9 L104 720.9 L108 721.0 L112 721.1 L116 721.1 L120 721.2 L124 721.2 L128 721.3 L132 721.4 L136 721.4 L140 721.5 L144 721.6 L148 721.6 L152 721.7 L156 721.8 L160 721.8 L164 721.9 L168 721.9 L172 722.0 L176 722.1 L180 722.1 L184 722.2 L188 722.3 L192 722.3 L196 722.4 L200 722.5 L204 722.5 L208 722.6 L212 722.7 L216 722.7 L220 722.8 L224 722.9 L228 723.0 L232 723.0 L236 723.1 L240 723.2 L244 723.3 L248 723.3 L252 723.4 L256 723.5 L260 723.6 L264 723.6 L268 723.7 L272 723.8 L276 723.9 L280 723.9 L284 724.0 L288 724.1 L292 724.2 L296 724.2 L300 724.3 L304 724.3 L308 724.4 L312 724.4 L316 724.4 L320 724.5 L324 724.5 L328 724.5 L332 724.6 L336 724.6 L340 724.6 L344 724.7 L348 724.7 L352 724.7 L356 724.7 L360 724.7 L364 724.7 L368 724.8 L372 724.8 L376 724.8 L380 724.8 L384 724.8 L388 724.8 L392 724.8 L396 724.8 L400 724.9 L404 724.9 L408 724.9 L412 724.9 L416 724.9 L420 724.9 L424 724.9 L428 724.9 L432 724.9 L436 725.0 L440 725.0 L444 725.0 L448 725.0 L452 725.0 L456 725.0 L460 725.0 L464 725.0 L468 725.1 L472 725.1 L476 725.1 L480 725.1 L484 725.1 L488 725.1 L492 725.1 L496 725.1 L500 725.1 L504 725.2 L508 725.2 L512 725.2 L516 725.2 L520 725.2 L524 725.2 L528 725.2 L532 725.2 L536 725.3 L540 725.3 L544 725.3 L548 725.3 L552 725.3 L556 725.3 L560 725.3 L564 725.3 L568 725.4 L572 725.4 L576 725.4 L580 725.4 L584 725.4 L588 725.4 L592 725.4 L596 725.4 L600 725.5 L604 725.4 L608 725.4 L612 725.4 L616 725.4 L620 725.3 L624 725.3 L628 725.3 L632 725.3 L636 725.2 L640 725.2 L644 725.2 L648 725.2 L652 725.2 L656 725.1 L660 725.1 L664 725.1 L668 725.1 L672 725.0 L676 725.0 L680 725.0 L684 725.0 L688 725.0 L692 724.9 L696 724.9 L700 724.9 L704 724.9 L708 724.9 L712 724.9 L716 724.9 L720 724.9 L724 724.9 L728 724.9 L732 724.9 L736 724.9 L740 724.9 L744 724.9 L748 724.9 L752 724.9 L756 724.9 L760 724.9 L764 724.9 L768 724.9 L772 724.9 L776 724.9 L780 724.9 L784 724.9 L788 724.9 L792 724.9 L796 724.9 L800 724.9 L804 724.9 L808 724.9 L812 724.9 L816 724.9 L820 724.9 L824 724.9 L828 724.9 L832 724.9 L836 724.9 L840 724.9 L844 724.9 L848 724.9 L852 724.9 L856 724.9 L860 724.9 L864 724.9 L868 724.9 L872 724.9 L876 724.9 L880 724.9 L884 724.9 L888 724.9 L892 724.9 L896 724.9 L900 724.9 L904 724.9 L908 724.9 L912 724.9 L916 724.9 L920 724.9 L924 724.9 L928 724.9 L932 724.9 L936 724.9 L940 724.9 L944 724.9 L948 724.9 L952 724.9 L956 724.9 L960 724.8 L964 724.8 L968 724.8 L972 724.8 L976 724.8 L980 724.8 L984 724.8 L988 724.8 L992 724.8 L996 724.8 L1000 724.8 L1004 724.8 L1008 724.8 L1012 724.8 L1016 724.8 L1020 724.7 L1024 724.7 L1028 724.7 L1032 724.7 L1036 724.7 L1040 724.7 L1044 724.7 L1048 724.7 L1052 724.7 L1056 724.7 L1060 724.7 L1064 724.7 L1068 724.7 L1072 724.7 L1076 724.7 L1080 724.6 L1084 724.6 L1088 724.6 L1092 724.6 L1096 724.6 L1100 724.6 L1104 724.6 L1108 724.6 L1112 724.6 L1116 724.6 L1120 724.6 L1124 724.6 L1128 724.6 L1132 724.6 L1136 724.5 L1140 724.5 L1144 724.5 L1148 724.5 L1152 724.5 L1156 724.5 L1160 724.5 L1164 724.5 L1168 724.5 L1172 724.5 L1176 724.5 L1180 724.5 L1184 724.5 L1188 724.5 L1192 724.5" fill="none" stroke="#FF0000" stroke-width="10.0"/><path d="M74 713.4 L74.5 714.1 L75 713.0 L75.5 714.1 L76 714.2 L76.5 712.7 L77 715.8 L77.5 714.2 L78 715.4 L78.5 716.9 L79 716.7 L79.5 717.2 L80 716.8 L80.5 719.5 L81 720.6 L81.5 721.0 L82 722.1 L82.5 720.3 L83 722.0 L84 724.4 L85 722.6 L86 716.4 L86.5 724.2 L87 720.9 L87.5 721.2 L88 716.7 L88.5 723.2 L89 717.6 L89.5 720.5 L90 719.1 L90.5 719.4 L91 717.0 L91.5 718.8 L92 716.8 L92.5 715.6 L93 713.5 L93.5 716.2 L94 712.6 L94.5 712.5 L95 712.9 L95.5 711.9 L96 711.9 L96.5 710.5 L97 711.1 L97.5 711.4 L98 711.6 L98.5 711.9 L99 712.3 L99.5 713.3 L100 711.9 L100.5 715.5 L101 716.3 L101.5 715.6 L102 716.4 L102.5 716.4 L103 717.8 L103.5 718.3 L104 718.1 L104.5 717.5 L105 720.3 L105.5 720.5 L106 716.5 L106.5 719.3 L107 722.4 L107.5 716.0 L108 719.2 L109 723.3 L110 722.7 L111 723.7 L112 718.8 L113 724.0 L114 720.9 L115 718.6 L116 721.4 L117 723.4 L118 718.4 L119 721.6 L120 722.8 L121 722.0 L122 722.1 L123 720.5 L124 723.6 L125 721.3 L126 722.7 L127 722.4 L128 723.1 L129 721.9 L130 721.3 L131 724.3 L132 721.9 L133 720.9 L134 720.6 L135 721.7 L136 722.2 L137 720.4 L138 720.7 L139 722.9 L140 719.9 L141 721.4 L142 722.8 L143 720.3 L144 720.9 L145 720.6 L146 721.0 L147 720.5 L148 721.2 L149 722.8 L150 723.3 L151 720.7 L152 717.2 L153 717.7 L154 725.1 L155 720.6 L156 721.9 L157 722.9 L158 722.2 L159 721.7 L160 723.1 L161 721.6 L162 719.5 L163 718.4 L164 720.0 L165 718.9 L166 721.2 L167 723.1 L168 725.2 L169 723.2 L170 722.0 L171 725.1 L172 722.7 L173 725.2 L174 720.6 L175 719.2 L176 722.0 L177 724.5 L178 720.8 L179 722.4 L180 723.9 L181 722.1 L182 721.3 L183 721.7 L184 718.9 L185 720.5 L186 722.8 L187 723.5 L187.5 719.9 L188 722.0 L188.5 719.1 L189 714.0 L189.5 706.7 L190 697.2 L190.5 687.5 L191 680.9 L191.5 680.3 L192 685.8 L192.5 695.2 L193 705.2 L193.5 712.5 L194 717.8 L194.5 721.9 L195 721.1 L195.5 724.4 L196 723.5 L196.5 721.4 L197 724.2 L197.5 721.5 L198 723.1 L198.5 719.8 L199 721.1 L199.5 719.4 L200 720.3 L200.5 718.4 L201 716.5 L201.5 716.2 L202 716.9 L202.5 714.6 L203 714.3 L203.5 714.7 L204 713.7 L204.5 715.2 L205 715.1 L205.5 715.0 L206 715.5 L206.5 716.2 L207 718.9 L207.5 720.4 L208 719.1 L208.5 721.8 L209 721.0 L209.5 723.0 L210 720.2 L210.5 720.8 L211 721.4 L211.5 722.3 L212 722.4 L213 722.0 L214 722.0 L215 719.8 L216 720.6 L217 724.1 L218 720.9 L219 722.7 L220 722.6 L221 723.0 L222 722.9 L223 721.7 L224 725.4 L225 722.9 L226 722.9 L227 722.9 L228 724.0 L229 723.9 L230 721.5 L231 721.6 L232 723.1 L233 723.9 L234 723.9 L235 725.1 L236 722.5 L237 721.2 L238 721.7 L239 725.2 L240 722.8 L241 722.6 L242 723.6 L243 724.5 L244 723.8 L244.5 721.0 L245 723.5 L245.5 717.8 L246 710.7 L246.5 694.8 L247 669.7 L247.5 638.3 L248 609.6 L248.5 595.2 L249 601.6 L249.5 625.8 L250 657.5 L250.5 685.9 L251 705.2 L251.5 715.0 L252 722.1 L252.5 722.5 L253 725.5 L254 722.7 L255 725.5 L256 722.7 L257 723.8 L258 724.4 L259 723.4 L260 725.0 L261 723.0 L262 723.3 L263 722.9 L264 722.0 L265 723.7 L266 724.2 L267 723.8 L268 721.9 L269 724.0 L270 725.3 L271 722.7 L272 725.0 L273 723.4 L274 722.7 L275 724.1 L275.5 723.1 L276 721.7 L276.5 717.6 L277 712.3 L277.5 704.4 L278 695.3 L278.5 687.7 L279 684.7 L279.5 687.7 L280 695.3 L280.5 704.7 L281 712.8 L281.5 717.7 L282 722.4 L282.5 724.5 L283 723.9 L284 722.5 L285 724.5 L286 725.0 L287 724.4 L288 724.7 L289 725.0 L290 723.2 L291 724.4 L292 723.7 L293 725.0 L294 725.2 L295 724.9 L296 724.2 L296.5 723.1 L297 721.7 L297.5 720.7 L298 718.4 L298.5 715.0 L299 710.5 L299.5 707.1 L300 705.4 L300.5 706.1 L301 709.0 L301.5 713.1 L302 717.3 L302.5 720.2 L303 722.2 L303.5 724.2 L304 724.5 L304.5 723.4 L305.5 724.8 L306.5 722.9 L307.5 723.9 L308.5 724.1 L309.5 725.9 L310.5 723.8 L311.5 723.6 L312.5 725.8 L313.5 724.7 L314.5 724.1 L315.5 724.6 L316.5 723.8 L317.5 724.7 L318.5 726.1 L319.5 724.7 L320.5 724.7 L321 725.3 L321.5 723.3 L322 717.3 L322.5 706.0 L323 684.5 L323.5 651.7 L324 613.0 L324.5 580.4 L325 567.5 L325.5 580.4 L326 613.0 L326.5 651.7 L327 684.5 L327.5 706.0 L328 717.1 L328.5 721.4 L329 722.9 L329.5 724.1 L330.5 725.3 L331.5 725.5 L332.5 724.9 L333.5 725.8 L334.5 724.3 L335.5 724.2 L336.5 725.1 L337.5 722.9 L338.5 725.1 L339.5 725.6 L340.5 725.3 L341.5 725.5 L342.5 726.3 L343.5 725.4 L344.5 725.7 L345.5 724.5 L346.5 724.4 L347.5 723.8 L348.5 725.8 L349.5 724.1 L350.5 723.7 L351.5 725.6 L352.5 722.9 L353.5 725.6 L354.5 723.9 L355.5 725.1 L356.5 724.7 L357.5 725.2 L358.5 724.6 L359.5 724.2 L360.5 724.4 L361.5 724.7 L362.5 723.8 L363.5 724.7 L364.5 724.4 L365.5 725.0 L366.5 724.2 L367.5 724.4 L368.5 724.4 L369.5 724.7 L370.5 725.3 L371.5 724.6 L372.5 725.5 L373.5 725.7 L374.5 725.1 L375.5 724.1 L376.5 725.9 L377.5 724.5 L378.5 726.4 L379.5 724.8 L380.5 724.7 L381.5 724.6 L382.5 724.4 L383.5 725.2 L384.5 725.0 L385.5 726.4 L386.5 724.9 L387 725.1 L387.5 723.2 L388 722.8 L388.5 719.7 L389 711.9 L389.5 697.0 L390 673.6 L390.5 644.3 L391 616.5 L391.5 600.1 L392 602.1 L392.5 621.4 L393 650.4 L393.5 678.9 L394 700.6 L394.5 714.1 L395 720.2 L395.5 723.8 L396 725.0 L396.5 724.4 L397.5 725.8 L398.5 724.3 L399.5 726.0 L400.5 725.7 L401.5 724.8 L402.5 725.0 L403.5 724.6 L404.5 725.2 L405.5 723.2 L406.5 726.3 L407.5 725.6 L408.5 725.7 L409.5 724.1 L410.5 724.5 L411.5 725.0 L412.5 725.1 L413.5 724.3 L414.5 724.6 L415.5 723.9 L416.5 725.0 L417.5 722.6 L418.5 723.8 L419.5 724.2 L420.5 725.8 L421.5 725.0 L422.5 724.6 L423.5 725.3 L424.5 724.6 L425.5 723.2 L426.5 724.4 L427 724.6 L427.5 723.1 L428 724.6 L428.5 722.0 L429 716.5 L429.5 707.5 L430 694.0 L430.5 679.1 L431 667.8 L431.5 664.8 L432 671.5 L432.5 685.0 L433 699.7 L433.5 711.6 L434 719.3 L434.5 722.9 L435 724.3 L435.5 725.1 L436.5 724.0 L437 723.7 L437.5 724.1 L438 724.4 L438.5 724.9 L439 724.4 L439.5 724.2 L440 722.9 L440.5 722.0 L441 721.5 L441.5 721.4 L442 721.0 L442.5 720.3 L443 719.9 L443.5 719.4 L444 718.9 L444.5 719.7 L445 718.8 L445.5 720.6 L446 721.0 L446.5 721.5 L447 721.8 L447.5 722.0 L448 721.2 L448.5 723.4 L449 722.6 L449.5 724.0 L450 724.0 L450.5 725.1 L451 722.7 L451.5 724.7 L452 725.3 L453 724.8 L454 725.1 L455 726.2 L456 723.7 L457 725.2 L458 725.8 L459 725.0 L460 724.5 L461 725.3 L462 724.2 L463 725.7 L464 723.3 L465 725.4 L466 725.4 L467 726.1 L468 726.1 L469 725.3 L470 723.9 L471 725.2 L472 725.0 L473 724.4 L474 725.6 L475 724.5 L476 725.0 L477 723.6 L478 724.9 L479 725.0 L480 725.8 L480.5 724.6 L481 723.6 L481.5 722.6 L482 717.9 L482.5 706.6 L483 684.0 L483.5 647.7 L484 602.4 L484.5 561.1 L485 540.3 L485.5 549.5 L486 584.5 L486.5 630.1 L487 671.1 L487.5 699.2 L488 714.6 L488.5 721.3 L489 724.0 L489.5 726.3 L490.5 725.2 L491.5 725.3 L492.5 725.0 L493.5 726.5 L494.5 725.6 L495.5 726.5 L496 724.4 L496.5 725.1 L497 723.1 L497.5 718.7 L498 712.2 L498.5 701.7 L499 687.9 L499.5 673.3 L500 661.9 L500.5 657.6 L501 661.9 L501.5 673.3 L502 687.9 L502.5 701.7 L503 712.1 L503.5 719.0 L504 722.8 L504.5 723.4 L505 726.1 L505.5 724.2 L506.5 726.6 L507.5 725.3 L508.5 725.6 L509.5 725.1 L510.5 726.7 L511.5 724.5 L512.5 724.5 L513.5 726.5 L514.5 725.6 L515.5 725.4 L516.5 724.2 L517.5 724.6 L518.5 725.7 L519 725.2 L519.5 723.6 L520 722.9 L520.5 719.9 L521 715.5 L521.5 708.8 L522 701.4 L522.5 694.6 L523 690.7 L523.5 691.2 L524 695.8 L524.5 702.9 L525 710.3 L525.5 716.9 L526 720.8 L526.5 723.3 L527 724.8 L527.5 723.0 L528.5 724.9 L529.5 725.2 L530.5 725.3 L531.5 723.2 L532.5 723.7 L533 723.9 L533.5 722.8 L534 724.9 L534.5 724.8 L535 723.2 L535.5 722.3 L536 721.4 L536.5 720.2 L537 718.1 L537.5 715.9 L538 714.0 L538.5 711.6 L539 708.9 L539.5 706.6 L540 704.3 L540.5 702.4 L541 701.1 L541.5 700.2 L542 700.2 L542.5 700.8 L543 702.1 L543.5 703.9 L544 706.1 L544.5 708.4 L545 711.0 L545.5 713.5 L546 715.3 L546.5 718.3 L547 719.4 L547.5 721.2 L548 723.1 L548.5 722.1 L549 722.1 L549.5 717.3 L550 710.8 L550.5 702.3 L551 693.3 L551.5 686.2 L552 683.5 L552.5 686.2 L553 693.3 L553.5 702.3 L554 710.9 L554.5 717.2 L555 721.3 L555.5 724.0 L556 726.0 L556.5 726.1 L557.5 725.7 L558.5 725.7 L559.5 724.8 L560.5 725.1 L561.5 725.4 L562.5 725.6 L563.5 725.2 L564.5 726.8 L565.5 726.2 L566.5 725.7 L567.5 725.6 L568.5 724.5 L569.5 724.5 L570.5 724.9 L571.5 724.5 L572.5 725.6 L573.5 726.5 L574.5 723.3 L575.5 725.0 L576.5 725.4 L577.5 724.4 L578.5 723.4 L579.5 725.1 L580.5 725.7 L581.5 725.5 L582.5 725.0 L583.5 725.1 L584.5 726.5 L585.5 724.9 L586.5 723.9 L587 725.6 L587.5 724.5 L588 725.2 L588.5 722.4 L589 718.9 L589.5 712.3 L590 704.2 L590.5 695.0 L591 687.4 L591.5 683.7 L592 685.3 L592.5 691.6 L593 700.5 L593.5 709.4 L594 716.4 L594.5 721.0 L595 723.4 L595.5 724.0 L596 725.5 L597 724.8 L598 725.5 L599 726.8 L600 726.7 L601 724.8 L602 724.7 L603 725.6 L604 724.9 L605 726.8 L606 725.5 L607 724.9 L608 725.2 L609 725.5 L610 725.1 L611 725.5 L612 726.2 L613 726.2 L614 725.7 L615 724.1 L616 724.4 L616.5 724.6 L617 724.8 L617.5 726.0 L618 724.3 L618.5 724.0 L619 724.1 L619.5 722.8 L620 721.4 L620.5 721.9 L621 720.7 L621.5 719.3 L622 719.4 L622.5 718.3 L623 717.3 L623.5 716.6 L624 716.3 L624.5 716.4 L625 716.2 L625.5 717.1 L626 718.2 L626.5 718.7 L627 719.2 L627.5 720.2 L628 722.0 L628.5 721.8 L629 723.2 L629.5 723.5 L630 722.8 L630.5 723.4 L631 723.0 L631.5 721.7 L632 720.9 L632.5 718.7 L633 717.9 L633.5 716.5 L634 715.5 L634.5 714.2 L635 713.0 L635.5 712.5 L636 711.6 L636.5 711.8 L637 711.9 L637.5 712.5 L638 713.6 L638.5 714.5 L639 715.7 L639.5 716.7 L640 718.5 L640.5 719.2 L641 720.8 L641.5 722.1 L642 722.3 L642.5 723.8 L643 723.9 L643.5 723.9 L644 723.7 L644.5 724.6 L645 726.2 L646 725.0 L647 725.9 L648 724.9 L649 725.2 L650 725.3 L651 724.7 L651.5 723.9 L652 725.2 L652.5 724.6 L653 724.3 L653.5 724.3 L654 723.8 L654.5 723.7 L655 722.0 L655.5 721.1 L656 722.0 L656.5 720.7 L657 721.2 L657.5 720.8 L658 720.4 L658.5 720.2 L659 720.2 L659.5 721.5 L660 721.6 L660.5 721.4 L661 722.0 L661.5 721.0 L662 723.0 L662.5 723.7 L663 722.8 L663.5 725.4 L664 725.8 L664.5 722.3 L665 725.2 L665.5 724.7 L666.5 725.8 L667.5 726.2 L668.5 724.3 L669.5 725.9 L670.5 725.5 L671.5 724.7 L672.5 725.9 L673.5 724.6 L674.5 726.2 L675.5 723.0 L676 724.0 L676.5 725.4 L677 722.9 L677.5 724.5 L678 724.1 L678.5 724.4 L679 722.2 L679.5 722.8 L680 722.3 L680.5 722.2 L681 721.8 L681.5 720.4 L682 719.9 L682.5 718.8 L683 719.5 L683.5 719.1 L684 718.6 L684.5 718.8 L685 719.7 L685.5 719.2 L686 720.1 L686.5 720.5 L687 721.4 L687.5 721.5 L688 723.0 L688.5 723.4 L689 722.7 L689.5 723.6 L690 723.9 L690.5 723.4 L691 724.4 L691.5 724.3 L692.5 725.3 L693.5 725.8 L694.5 724.7 L695.5 724.1 L696.5 725.1 L697.5 725.3 L698.5 724.5 L699 724.1 L699.5 724.4 L700 724.3 L700.5 721.9 L701 718.6 L701.5 714.3 L702 709.4 L702.5 705.2 L703 702.7 L703.5 703.1 L704 705.9 L704.5 710.4 L705 715.4 L705.5 719.7 L706 723.3 L706.5 723.0 L707 725.1 L707.5 723.3 L708.5 723.6 L709.5 723.6 L710 725.9 L710.5 723.1 L711 724.2 L711.5 724.8 L712 723.5 L712.5 723.1 L713 721.3 L713.5 720.5 L714 719.1 L714.5 716.8 L715 714.5 L715.5 712.0 L716 709.4 L716.5 706.9 L717 704.6 L717.5 702.5 L718 701.0 L718.5 699.9 L719 699.5 L719.5 699.9 L720 700.9 L720.5 702.5 L721 704.7 L721.5 707.0 L722 709.5 L722.5 712.1 L723 714.1 L723.5 716.0 L724 718.6 L724.5 720.7 L725 721.5 L725.5 722.9 L726 724.3 L726.5 724.1 L727 724.6 L727.5 724.8 L728 723.8 L729 724.4 L730 724.5 L731 724.7 L732 726.6 L733 725.5 L734 724.9 L735 725.2 L736 724.8 L737 725.7 L738 724.5 L739 724.6 L740 724.5 L741 725.3 L742 724.7 L743 724.6 L744 724.8 L745 724.2 L746 726.0 L747 725.5 L748 724.7 L749 725.2 L750 725.6 L751 724.8 L752 725.7 L753 725.8 L753.5 724.9 L754 724.5 L754.5 722.9 L755 720.1 L755.5 714.5 L756 704.0 L756.5 690.1 L757 675.0 L757.5 663.8 L758 660.9 L758.5 667.5 L759 680.9 L759.5 696.0 L760 708.9 L760.5 716.3 L761 721.2 L761.5 723.1 L762 725.2 L762.5 724.7 L763.5 725.3 L764.5 724.8 L765.5 724.9 L766.5 726.4 L767.5 724.5 L768.5 723.9 L769.5 724.2 L770.5 724.0 L771.5 723.7 L772.5 724.3 L773.5 724.5 L774.5 726.0 L775.5 726.0 L776.5 725.2 L777.5 725.9 L778.5 724.9 L779.5 724.3 L780.5 725.3 L781.5 726.0 L782.5 724.3 L783.5 725.0 L784.5 723.5 L785.5 723.9 L786.5 724.1 L787.5 726.1 L788.5 725.2 L789.5 724.1 L790 724.1 L790.5 724.1 L791 724.4 L791.5 722.1 L792 718.6 L792.5 714.0 L793 708.6 L793.5 703.5 L794 700.2 L794.5 699.8 L795 702.6 L795.5 707.6 L796 713.2 L796.5 717.6 L797 720.4 L797.5 722.9 L798 724.2 L798.5 725.5 L799.5 725.5 L800 724.4 L800.5 723.2 L801 722.0 L801.5 718.9 L802 715.1 L802.5 709.1 L803 702.6 L803.5 697.8 L804 696.0 L804.5 697.8 L805 702.7 L805.5 708.9 L806 714.8 L806.5 719.0 L807 722.8 L807.5 724.7 L808 724.0 L808.5 725.1 L809.5 725.9 L810.5 726.5 L811.5 723.8 L812.5 725.2 L813.5 726.1 L814.5 723.3 L815.5 725.4 L816.5 724.3 L817 724.0 L817.5 724.3 L818 722.1 L818.5 718.2 L819 713.3 L819.5 706.6 L820 699.4 L820.5 693.9 L821 691.8 L821.5 693.9 L822 699.4 L822.5 706.6 L823 713.1 L823.5 718.2 L824 721.8 L824.5 723.1 L825 723.9 L825.5 725.0 L826.5 725.4 L827.5 724.4 L828.5 725.2 L829.5 724.3 L830.5 723.4 L831.5 725.5 L832.5 725.2 L833.5 724.4 L834.5 723.1 L835.5 726.0 L836.5 725.1 L837.5 724.8 L838.5 725.3 L839.5 723.0 L840.5 723.1 L841.5 723.8 L842.5 723.8 L843.5 724.2 L844 724.8 L844.5 724.0 L845 721.2 L845.5 717.7 L846 713.1 L846.5 707.6 L847 702.6 L847.5 699.8 L848 700.1 L848.5 703.5 L849 708.6 L849.5 714.1 L850 719.0 L850.5 721.9 L851 723.8 L851.5 723.8 L852 726.1 L853 726.2 L854 725.3 L855 724.2 L856 725.7 L857 726.4 L858 725.5 L859 725.0 L860 725.8 L861 725.8 L862 726.2 L863 724.0 L864 723.7 L865 724.3 L866 725.0 L867 726.4 L868 724.0 L869 724.7 L870 725.2 L871 724.9 L872 725.0 L873 723.7 L874 724.2 L875 723.5 L876 724.7 L877 724.6 L878 725.0 L879 724.6 L880 724.0 L881 724.4 L882 725.3 L883 725.9 L884 725.0 L885 724.6 L886 724.4 L887 725.3 L888 724.5 L889 726.1 L890 724.1 L891 724.5 L892 725.1 L893 724.1 L894 725.7 L895 726.1 L896 725.2 L897 724.8 L898 725.0 L899 723.8 L900 725.4 L900.5 724.9 L901 723.0 L901.5 721.9 L902 718.1 L902.5 712.1 L903 704.2 L903.5 695.2 L904 687.8 L904.5 684.2 L905 685.7 L905.5 691.9 L906 700.6 L906.5 709.3 L907 716.2 L907.5 720.8 L908 723.7 L908.5 724.3 L909 724.4 L909.5 724.5 L910 723.0 L910.5 721.5 L911 718.0 L911.5 714.1 L912 709.9 L912.5 706.5 L913 705.3 L913.5 706.5 L914 709.8 L914.5 714.0 L915 718.4 L915.5 721.4 L916 722.7 L916.5 724.1 L917 724.1 L918 725.8 L919 725.2 L920 724.5 L921 724.1 L922 725.1 L923 724.7 L924 725.2 L925 725.7 L926 724.3 L927 725.1 L928 725.6 L929 725.6 L930 724.6 L931 724.6 L931.5 724.4 L932 724.0 L932.5 725.1 L933 724.1 L933.5 722.8 L934 723.5 L934.5 723.0 L935 722.2 L935.5 721.9 L936 720.5 L936.5 719.9 L937 719.1 L937.5 718.0 L938 717.2 L938.5 717.2 L939 716.6 L939.5 716.4 L940 716.7 L940.5 716.6 L941 716.7 L941.5 717.7 L942 718.3 L942.5 720.2 L943 720.6 L943.5 721.8 L944 721.6 L944.5 722.7 L945 723.3 L945.5 723.3 L946 723.5 L946.5 723.1 L947 723.5 L947.5 723.9 L948.5 723.8 L949.5 726.0 L950.5 725.0 L951.5 724.1 L952.5 724.4 L953.5 725.7 L954.5 725.4 L955.5 724.1 L956.5 726.2 L957.5 724.3 L958.5 725.2 L959.5 724.9 L960.5 725.6 L961.5 723.9 L962.5 724.5 L963.5 725.5 L964.5 726.0 L965.5 723.6 L966.5 726.1 L967.5 725.4 L968 724.2 L968.5 723.4 L969 723.9 L969.5 722.8 L970 724.5 L970.5 723.4 L971 722.6 L971.5 721.2 L972 720.2 L972.5 720.0 L973 719.1 L973.5 717.5 L974 717.2 L974.5 716.0 L975 715.7 L975.5 715.3 L976 714.8 L976.5 715.4 L977 715.8 L977.5 716.6 L978 717.1 L978.5 717.7 L979 718.9 L979.5 720.6 L980 720.9 L980.5 721.1 L981 723.1 L981.5 723.2 L982 724.2 L982.5 724.3 L983 724.9 L983.5 725.4 L984 724.2 L985 726.1 L986 725.2 L987 724.4 L987.5 724.5 L988 723.9 L988.5 724.7 L989 723.8 L989.5 723.0 L990 722.3 L990.5 721.3 L991 720.4 L991.5 719.0 L992 717.2 L992.5 716.5 L993 715.4 L993.5 713.9 L994 713.0 L994.5 712.1 L995 711.7 L995.5 711.6 L996 712.1 L996.5 713.0 L997 713.4 L997.5 714.7 L998 715.8 L998.5 717.4 L999 718.8 L999.5 719.9 L1000 721.8 L1000.5 721.4 L1001 723.0 L1001.5 723.6 L1002 722.6 L1002.5 722.7 L1003 721.2 L1003.5 721.1 L1004 719.1 L1004.5 718.8 L1005 718.3 L1005.5 717.8 L1006 717.4 L1006.5 717.2 L1007 717.4 L1007.5 717.2 L1008 717.6 L1008.5 718.0 L1009 718.5 L1009.5 719.9 L1010 720.5 L1010.5 721.1 L1011 721.8 L1011.5 721.7 L1012 721.3 L1012.5 723.4 L1013 723.3 L1013.5 724.0 L1014 724.0 L1014.5 723.1 L1015 724.4 L1016 724.6 L1017 723.9 L1018 723.6 L1019 724.4 L1020 725.2 L1021 723.6 L1022 725.3 L1023 724.5 L1024 725.0 L1025 725.7 L1026 725.1 L1027 724.5 L1028 724.7 L1028.5 722.8 L1029 722.7 L1029.5 723.2 L1030 724.0 L1030.5 723.1 L1031 721.6 L1031.5 720.2 L1032 718.7 L1032.5 717.0 L1033 715.3 L1033.5 713.4 L1034 711.2 L1034.5 709.4 L1035 707.3 L1035.5 705.9 L1036 704.8 L1036.5 704.1 L1037 704.0 L1037.5 704.6 L1038 705.6 L1038.5 707.0 L1039 708.8 L1039.5 710.8 L1040 713.0 L1040.5 715.0 L1041 716.6 L1041.5 718.7 L1042 720.1 L1042.5 722.1 L1043 722.1 L1043.5 721.8 L1044 723.0 L1044.5 724.1 L1045 723.3 L1045.5 723.5 L1046 723.5 L1047 725.5 L1048 724.3 L1049 725.8 L1050 723.2 L1051 722.7 L1052 724.6 L1053 723.9 L1054 725.9 L1055 725.1 L1056 723.5 L1057 724.9 L1058 724.1 L1059 724.1 L1060 724.0 L1061 725.1 L1062 725.4 L1062.5 725.2 L1063 723.5 L1063.5 724.5 L1064 723.4 L1064.5 722.2 L1065 721.2 L1065.5 720.1 L1066 719.1 L1066.5 717.4 L1067 716.4 L1067.5 714.4 L1068 713.2 L1068.5 711.5 L1069 710.0 L1069.5 709.0 L1070 708.4 L1070.5 708.2 L1071 708.5 L1071.5 709.2 L1072 710.3 L1072.5 711.2 L1073 713.3 L1073.5 714.9 L1074 716.7 L1074.5 717.9 L1075 719.4 L1075.5 720.8 L1076 722.2 L1076.5 722.5 L1077 723.9 L1077.5 723.3 L1078 722.9 L1078.5 724.9 L1079 724.2 L1080 724.8 L1081 724.6 L1082 723.6 L1083 725.2 L1083.5 723.4 L1084 724.7 L1084.5 724.2 L1085 724.2 L1085.5 722.7 L1086 721.7 L1086.5 721.7 L1087 720.7 L1087.5 720.1 L1088 718.9 L1088.5 718.2 L1089 716.8 L1089.5 716.3 L1090 714.7 L1090.5 714.4 L1091 714.5 L1091.5 714.5 L1092 714.8 L1092.5 715.3 L1093 716.0 L1093.5 716.5 L1094 718.1 L1094.5 719.6 L1095 719.9 L1095.5 720.8 L1096 722.2 L1096.5 722.0 L1097 723.2 L1097.5 723.5 L1098 722.5 L1098.5 722.5 L1099 721.3 L1099.5 719.6 L1100 719.0 L1100.5 718.4 L1101 717.8 L1101.5 717.1 L1102 717.0 L1102.5 716.4 L1103 716.5 L1103.5 716.7 L1104 716.5 L1104.5 717.7 L1105 718.1 L1105.5 718.9 L1106 719.4 L1106.5 720.7 L1107 721.1 L1107.5 721.8 L1108 722.8 L1108.5 723.5 L1109 724.2 L1109.5 723.1 L1110 724.7 L1110.5 723.4 L1111 723.1 L1112 725.2 L1113 725.0 L1114 725.2 L1115 725.9 L1116 724.2 L1117 724.4 L1118 724.6 L1119 723.4 L1120 724.8 L1121 724.6 L1122 724.2 L1123 723.1 L1124 724.1 L1125 723.8 L1126 724.3 L1127 723.4 L1128 724.6 L1129 725.5 L1130 725.9 L1131 725.0 L1132 724.2 L1133 723.9 L1134 725.2 L1135 724.2 L1136 724.7 L1137 724.0 L1138 724.8 L1139 724.3 L1140 723.9 L1141 725.2 L1142 725.3 L1143 724.0 L1144 723.8 L1145 724.6 L1146 724.4 L1147 725.5 L1148 724.8 L1149 724.1 L1150 725.7 L1151 724.0 L1152 723.0 L1152.5 723.5 L1153 724.0 L1153.5 723.7 L1154 723.2 L1154.5 724.4 L1155 722.3 L1155.5 722.3 L1156 721.6 L1156.5 721.7 L1157 721.1 L1157.5 719.5 L1158 720.2 L1158.5 718.4 L1159 717.8 L1159.5 717.9 L1160 716.9 L1160.5 716.4 L1161 715.9 L1161.5 715.7 L1162 715.5 L1162.5 715.1 L1163 715.3 L1163.5 715.3 L1164 715.6 L1164.5 716.4 L1165 716.3 L1165.5 717.0 L1166 718.6 L1166.5 718.9 L1167 719.6 L1167.5 720.0 L1168 721.3 L1168.5 720.6 L1169 722.2 L1169.5 721.2 L1170 723.3 L1170.5 721.9 L1171 723.2 L1171.5 723.1 L1172 723.7 L1172.5 723.8 L1173 724.9 L1174 724.8 L1175 724.7 L1176 724.2 L1177 725.8 L1178 725.0 L1179 724.1 L1180 724.4 L1181 725.8 L1182 724.6 L1183 724.4 L1184 723.3 L1185 723.7 L1186 723.8 L1187 724.0 L1188 724.6 L1189 724.5 L1190 724.4 L1191 725.1 L1192 724.8" fill="none" stroke="#FF0000" stroke-width="12.5" stroke-linejoin="round" stroke-linecap="round"/>
<path d="M76 914.3 L80 914.3 L84 914.4 L88 914.5 L92 914.5 L96 914.6 L100 914.7 L104 914.7 L108 914.8 L112 914.9 L116 914.9 L120 915.0 L124 915.0 L128 915.1 L132 915.2 L136 915.2 L140 915.3 L144 915.4 L148 915.4 L152 915.5 L156 915.6 L160 915.6 L164 915.7 L168 915.7 L172 915.8 L176 915.9 L180 915.9 L184 916.0 L188 916.1 L192 916.1 L196 916.2 L200 916.2 L204 916.3 L208 916.4 L212 916.4 L216 916.5 L220 916.5 L224 916.6 L228 916.6 L232 916.7 L236 916.8 L240 916.8 L244 916.9 L248 916.9 L252 917.0 L256 917.0 L260 917.1 L264 917.1 L268 917.2 L272 917.3 L276 917.3 L280 917.4 L284 917.4 L288 917.5 L292 917.5 L296 917.6 L300 917.6 L304 917.7 L308 917.7 L312 917.7 L316 917.7 L320 917.7 L324 917.7 L328 917.7 L332 917.7 L336 917.7 L340 917.7 L344 917.7 L348 917.7 L352 917.7 L356 917.7 L360 917.7 L364 917.7 L368 917.7 L372 917.7 L376 917.7 L380 917.7 L384 917.7 L388 917.7 L392 917.7 L396 917.7 L400 917.8 L404 917.8 L408 917.8 L412 917.8 L416 917.8 L420 917.8 L424 917.8 L428 917.8 L432 917.8 L436 917.8 L440 917.8 L444 917.8 L448 917.8 L452 917.8 L456 917.8 L460 917.8 L464 917.8 L468 917.8 L472 917.8 L476 917.8 L480 917.8 L484 917.8 L488 917.8 L492 917.8 L496 917.8 L500 917.9 L504 917.9 L508 917.9 L512 917.9 L516 917.9 L520 917.9 L524 917.9 L528 917.9 L532 917.9 L536 917.9 L540 917.9 L544 917.9 L548 917.9 L552 917.9 L556 917.9 L560 917.9 L564 917.9 L568 917.9 L572 917.9 L576 917.9 L580 917.9 L584 917.9 L588 917.9 L592 917.9 L596 917.9 L600 918.0 L604 917.9 L608 917.9 L612 917.9 L616 917.9 L620 917.9 L624 917.9 L628 917.9 L632 917.9 L636 917.9 L640 917.8 L644 917.8 L648 917.8 L652 917.8 L656 917.8 L660 917.8 L664 917.8 L668 917.8 L672 917.8 L676 917.7 L680 917.7 L684 917.7 L688 917.7 L692 917.7 L696 917.7 L700 917.7 L704 917.7 L708 917.7 L712 917.7 L716 917.7 L720 917.7 L724 917.6 L728 917.6 L732 917.6 L736 917.6 L740 917.6 L744 917.6 L748 917.6 L752 917.6 L756 917.6 L760 917.6 L764 917.6 L768 917.6 L772 917.6 L776 917.6 L780 917.6 L784 917.6 L788 917.6 L792 917.5 L796 917.5 L800 917.5 L804 917.5 L808 917.5 L812 917.5 L816 917.5 L820 917.5 L824 917.5 L828 917.5 L832 917.5 L836 917.5 L840 917.5 L844 917.5 L848 917.5 L852 917.5 L856 917.5 L860 917.4 L864 917.4 L868 917.4 L872 917.4 L876 917.4 L880 917.4 L884 917.4 L888 917.4 L892 917.4 L896 917.4 L900 917.4 L904 917.4 L908 917.4 L912 917.4 L916 917.4 L920 917.4 L924 917.4 L928 917.3 L932 917.3 L936 917.3 L940 917.3 L944 917.3 L948 917.3 L952 917.3 L956 917.3 L960 917.3 L964 917.3 L968 917.3 L972 917.3 L976 917.3 L980 917.3 L984 917.3 L988 917.3 L992 917.3 L996 917.2 L1000 917.2 L1004 917.2 L1008 917.2 L1012 917.2 L1016 917.2 L1020 917.2 L1024 917.2 L1028 917.2 L1032 917.2 L1036 917.2 L1040 917.2 L1044 917.2 L1048 917.2 L1052 917.2 L1056 917.2 L1060 917.1 L1064 917.1 L1068 917.1 L1072 917.1 L1076 917.1 L1080 917.1 L1084 917.1 L1088 917.1 L1092 917.1 L1096 917.1 L1100 917.1 L1104 917.1 L1108 917.1 L1112 917.1 L1116 917.1 L1120 917.1 L1124 917.1 L1128 917.0 L1132 917.0 L1136 917.0 L1140 917.0 L1144 917.0 L1148 917.0 L1152 917.0 L1156 917.0 L1160 917.0 L1164 917.0 L1168 917.0 L1172 917.0 L1176 917.0 L1180 917.0 L1184 917.0 L1188 917.0 L1192 917.0" fill="none" stroke="#000000" stroke-width="10.0"/><path d="M74 906.1 L74.5 905.3 L75 905.4 L75.5 905.2 L76 904.4 L76.5 906.8 L77 907.6 L77.5 908.1 L78 907.6 L78.5 910.5 L79 908.6 L79.5 913.3 L80 913.8 L80.5 912.5 L81 913.3 L81.5 912.2 L82 910.0 L82.5 909.0 L83 908.9 L83.5 908.4 L84 906.1 L84.5 906.0 L85 905.6 L85.5 903.9 L86 904.3 L86.5 903.1 L87 902.4 L87.5 902.4 L88 902.5 L88.5 902.2 L89 902.8 L89.5 903.2 L90 904.0 L90.5 903.6 L91 905.4 L91.5 905.2 L92 906.6 L92.5 908.1 L93 908.1 L93.5 909.3 L94 910.3 L94.5 913.1 L95 911.7 L95.5 910.9 L96 912.0 L96.5 911.4 L97 910.7 L97.5 913.0 L98 910.0 L98.5 917.4 L99 914.9 L99.5 918.3 L100.5 914.4 L101.5 915.5 L102.5 911.9 L103.5 917.5 L104.5 913.3 L105.5 914.3 L106.5 911.0 L107.5 914.5 L108.5 914.4 L109.5 916.8 L110.5 913.9 L111.5 915.1 L112.5 914.1 L113.5 914.4 L114.5 916.0 L115.5 914.3 L116.5 909.3 L117.5 913.1 L118.5 917.1 L119.5 915.2 L120.5 912.8 L121.5 914.5 L122.5 910.6 L123.5 917.2 L124.5 914.7 L125.5 913.6 L126.5 910.9 L127.5 914.6 L128.5 916.3 L129.5 915.3 L130.5 916.9 L131.5 918.5 L132.5 915.1 L133.5 911.1 L134.5 918.0 L135.5 912.6 L136.5 918.1 L137.5 917.6 L138.5 917.9 L139.5 910.7 L140.5 915.5 L141.5 916.3 L142.5 915.9 L143.5 916.0 L144.5 916.0 L145.5 914.9 L146.5 917.4 L147.5 919.0 L148.5 915.3 L149.5 915.6 L150.5 916.2 L151.5 918.7 L152.5 917.2 L153.5 916.4 L154.5 917.1 L155.5 917.7 L156.5 915.1 L157.5 915.5 L158.5 916.9 L159.5 917.6 L160.5 914.2 L161.5 918.0 L162.5 915.4 L163.5 916.4 L164.5 916.2 L165.5 917.3 L166.5 913.5 L167.5 915.9 L168.5 914.0 L169.5 917.3 L170.5 914.3 L171.5 916.5 L172.5 916.7 L173.5 912.4 L174.5 914.3 L175.5 912.5 L176.5 914.9 L177.5 915.8 L178.5 917.0 L179.5 916.1 L180.5 913.8 L181.5 915.7 L182.5 915.9 L183.5 912.4 L184.5 913.5 L185.5 916.2 L186 917.0 L186.5 917.6 L187 915.7 L187.5 910.0 L188 908.6 L188.5 900.5 L189 891.8 L189.5 883.3 L190 878.4 L190.5 879.0 L191 884.9 L191.5 893.6 L192 902.2 L192.5 909.4 L193 913.2 L193.5 915.6 L194 914.9 L194.5 915.6 L195.5 917.2 L196.5 917.2 L197.5 917.0 L198.5 916.8 L199.5 913.9 L200.5 913.9 L201.5 915.0 L202.5 916.2 L203.5 917.3 L204.5 919.3 L205.5 916.6 L206.5 917.4 L207.5 918.2 L208.5 919.4 L209.5 914.7 L210.5 918.9 L211.5 918.5 L212.5 912.8 L213.5 915.2 L214.5 918.0 L215.5 915.4 L216.5 914.5 L217.5 916.6 L218.5 915.6 L219.5 917.7 L220.5 916.4 L221.5 914.7 L222.5 918.6 L223.5 913.7 L224.5 917.2 L225.5 914.9 L226.5 916.9 L227.5 917.4 L228.5 916.0 L229.5 913.2 L230.5 918.3 L231.5 915.8 L232.5 913.2 L233.5 914.5 L234.5 918.4 L235.5 917.0 L236.5 916.9 L237.5 916.6 L238.5 916.1 L239.5 915.1 L240.5 913.9 L241.5 919.0 L242.5 919.1 L243 914.6 L243.5 915.4 L244 910.3 L244.5 899.5 L245 881.7 L245.5 857.2 L246 831.5 L246.5 813.9 L247 812.1 L247.5 827.0 L248 851.9 L248.5 877.3 L249 896.5 L249.5 908.3 L250 914.7 L250.5 914.8 L251 916.0 L252 918.0 L253 914.3 L254 913.7 L255 916.6 L256 915.6 L257 916.9 L258 919.1 L259 916.1 L260 915.1 L261 914.5 L262 918.9 L263 916.3 L264 915.8 L265 916.3 L266 918.7 L267 917.5 L268 917.8 L269 916.1 L270 918.1 L271 918.0 L272 916.0 L273 915.4 L274 918.2 L274.5 918.5 L275 917.7 L275.5 916.1 L276 912.2 L276.5 907.8 L277 900.2 L277.5 891.4 L278 883.6 L278.5 879.7 L279 881.4 L279.5 888.0 L280 896.9 L280.5 905.1 L281 910.9 L281.5 916.0 L282 916.5 L282.5 917.6 L283 915.3 L284 917.5 L285 916.6 L286 917.6 L287 917.5 L288 918.1 L289 918.9 L290 917.5 L291 917.8 L292 917.7 L293 919.3 L294 917.5 L295 918.0 L296 917.1 L296.5 918.4 L297 916.5 L297.5 913.7 L298 909.1 L298.5 903.6 L299 896.3 L299.5 889.9 L300 886.6 L300.5 888.1 L301 893.5 L301.5 900.9 L302 907.7 L302.5 911.9 L303 915.4 L303.5 915.8 L304 916.7 L305 918.1 L306 916.6 L307 915.3 L308 917.5 L309 917.1 L310 918.6 L311 918.1 L312 918.2 L313 917.1 L314 917.6 L315 915.8 L316 918.0 L317 918.7 L318 916.1 L319 917.0 L319.5 916.2 L320 915.6 L320.5 915.1 L321 910.6 L321.5 900.3 L322 881.5 L322.5 854.2 L323 823.6 L323.5 800.2 L324 794.1 L324.5 808.0 L325 835.6 L325.5 865.9 L326 890.2 L326.5 905.0 L327 912.3 L327.5 916.5 L328 917.0 L328.5 917.6 L329.5 918.5 L330.5 919.2 L331.5 917.3 L332.5 916.9 L333.5 918.0 L334.5 916.5 L335.5 919.0 L336.5 917.6 L337.5 917.0 L338.5 918.0 L339.5 918.3 L340.5 916.6 L341.5 917.9 L342.5 915.6 L343.5 917.5 L344.5 916.1 L345.5 919.3 L346.5 917.7 L347.5 916.3 L348.5 917.4 L349.5 917.0 L350.5 916.9 L351.5 917.5 L352.5 919.1 L353.5 917.5 L354.5 916.6 L355.5 918.3 L356.5 917.9 L357.5 916.6 L358.5 918.4 L359.5 917.9 L360.5 917.1 L361.5 917.5 L362.5 917.0 L363.5 917.4 L364.5 918.1 L365.5 916.6 L366.5 918.3 L367.5 918.0 L368.5 916.8 L369.5 918.0 L370.5 918.2 L371.5 917.6 L372.5 918.5 L373.5 917.8 L374.5 918.9 L375.5 917.2 L376.5 918.0 L377.5 918.3 L378.5 918.4 L379.5 917.4 L380.5 917.5 L381.5 916.8 L382.5 916.4 L383.5 918.2 L384.5 916.8 L385.5 917.7 L386.5 918.9 L387 916.2 L387.5 915.0 L388 910.7 L388.5 901.9 L389 885.9 L389.5 862.7 L390 836.4 L390.5 814.9 L391 806.5 L391.5 814.9 L392 836.4 L392.5 862.7 L393 885.9 L393.5 902.0 L394 910.8 L394.5 915.3 L395 917.8 L395.5 917.6 L396.5 917.0 L397.5 918.8 L398.5 917.8 L399.5 918.0 L400.5 917.6 L401.5 916.8 L402.5 917.0 L403.5 916.6 L404.5 916.9 L405.5 916.8 L406.5 916.5 L407.5 918.0 L408.5 917.0 L409.5 918.8 L410.5 917.9 L411.5 918.1 L412.5 917.6 L413.5 918.1 L414.5 918.0 L415.5 918.1 L416.5 919.3 L417.5 917.5 L418.5 917.1 L419.5 917.0 L420.5 916.8 L421.5 917.0 L422.5 918.4 L423.5 918.9 L424.5 916.3 L425.5 917.4 L426.5 917.8 L427 916.0 L427.5 917.4 L428 915.6 L428.5 914.6 L429 910.2 L429.5 901.6 L430 889.2 L430.5 875.5 L431 865.0 L431.5 862.2 L432 868.5 L432.5 880.9 L433 894.5 L433.5 905.4 L434 912.2 L434.5 916.0 L435 917.0 L435.5 917.6 L436.5 917.8 L437.5 918.8 L438.5 917.8 L439 918.3 L439.5 916.5 L440 916.6 L440.5 917.1 L441 916.8 L441.5 917.5 L442 917.4 L442.5 915.7 L443 916.2 L443.5 914.4 L444 914.4 L444.5 913.6 L445 913.6 L445.5 912.8 L446 912.4 L446.5 912.6 L447 912.4 L447.5 912.5 L448 913.2 L448.5 914.4 L449 913.7 L449.5 914.9 L450 915.7 L450.5 916.7 L451 917.2 L451.5 915.5 L452 915.5 L452.5 916.0 L453 915.7 L453.5 918.9 L454 916.9 L455 918.9 L456 917.0 L457 919.2 L458 918.0 L459 916.1 L460 918.7 L461 917.8 L462 919.3 L463 918.2 L464 918.9 L464.5 916.6 L465 916.1 L465.5 915.9 L466 915.5 L466.5 916.1 L467 915.6 L467.5 915.8 L468 914.5 L468.5 914.2 L469 912.9 L469.5 912.3 L470 912.1 L470.5 911.1 L471 911.8 L471.5 911.4 L472 910.8 L472.5 911.7 L473 911.8 L473.5 913.3 L474 912.5 L474.5 914.2 L475 914.9 L475.5 914.6 L476 915.7 L476.5 917.4 L477 915.7 L477.5 917.7 L478 917.5 L478.5 917.9 L479 917.9 L480 918.0 L480.5 918.1 L481 915.4 L481.5 915.6 L482 911.2 L482.5 900.7 L483 879.6 L483.5 845.9 L484 803.7 L484.5 765.3 L485 745.9 L485.5 754.5 L486 787.0 L486.5 829.5 L487 867.6 L487.5 893.7 L488 908.4 L488.5 914.2 L489 917.2 L489.5 918.0 L490.5 918.1 L491.5 918.2 L492.5 917.8 L493.5 918.4 L494.5 917.7 L495 918.4 L495.5 916.6 L496 917.7 L496.5 915.4 L497 911.3 L497.5 905.5 L498 896.6 L498.5 885.8 L499 875.6 L499.5 868.9 L500 868.3 L500.5 873.8 L501 883.6 L501.5 894.6 L502 904.0 L502.5 910.4 L503 914.5 L503.5 915.7 L504 917.6 L504.5 917.5 L505.5 918.8 L506.5 919.0 L507.5 919.3 L508.5 918.7 L509.5 919.3 L510.5 917.6 L511.5 917.1 L512.5 918.6 L513.5 918.5 L514.5 918.1 L515.5 918.4 L516.5 917.8 L517.5 918.5 L518 918.2 L518.5 915.8 L519 916.7 L519.5 915.7 L520 912.7 L520.5 909.1 L521 903.2 L521.5 897.7 L522 893.3 L522.5 891.5 L523 893.3 L523.5 897.7 L524 903.3 L524.5 908.3 L525 913.0 L525.5 915.5 L526 916.9 L526.5 917.2 L527 918.1 L528 918.5 L529 917.2 L530 917.3 L531 918.3 L531.5 917.9 L532 917.4 L532.5 917.3 L533 917.7 L533.5 915.9 L534 915.4 L534.5 914.3 L535 913.4 L535.5 912.4 L536 910.5 L536.5 908.6 L537 905.8 L537.5 903.8 L538 901.3 L538.5 899.0 L539 897.0 L539.5 895.4 L540 894.3 L540.5 893.8 L541 894.1 L541.5 894.9 L542 896.3 L542.5 898.2 L543 900.5 L543.5 902.7 L544 905.2 L544.5 907.7 L545 910.0 L545.5 910.9 L546 913.4 L546.5 915.2 L547 915.2 L547.5 916.9 L548 916.8 L548.5 916.8 L549 917.4 L549.5 915.8 L550 911.3 L550.5 907.1 L551 900.0 L551.5 892.2 L552 885.7 L552.5 882.5 L553 883.9 L553.5 889.3 L554 896.8 L554.5 904.3 L555 910.0 L555.5 913.6 L556 916.0 L556.5 916.6 L557 917.4 L558 918.4 L559 917.5 L560 918.2 L561 918.0 L562 918.0 L563 918.0 L564 917.5 L565 917.8 L566 918.5 L567 917.7 L568 917.7 L569 918.0 L570 918.4 L571 918.6 L572 918.2 L573 919.3 L574 917.8 L575 917.2 L576 918.8 L577 916.9 L578 917.3 L579 919.3 L580 916.9 L581 917.8 L582 918.2 L583 918.0 L584 917.1 L585 919.3 L586 917.7 L586.5 917.9 L587 917.0 L587.5 916.2 L588 914.7 L588.5 912.4 L589 907.3 L589.5 900.6 L590 893.7 L590.5 888.4 L591 886.4 L591.5 888.4 L592 893.7 L592.5 900.6 L593 906.9 L593.5 912.0 L594 914.6 L594.5 916.6 L595 917.5 L595.5 917.1 L596.5 917.6 L597.5 917.7 L598.5 917.4 L599.5 917.1 L600.5 916.3 L601.5 917.4 L602.5 918.9 L603.5 917.4 L604.5 916.7 L605.5 918.0 L606.5 917.4 L607.5 918.5 L608.5 918.1 L609.5 918.8 L610.5 916.8 L611.5 919.3 L612.5 917.3 L613.5 918.6 L614.5 916.9 L615.5 916.7 L616 918.0 L616.5 917.1 L617 918.1 L617.5 917.7 L618 915.2 L618.5 916.5 L619 916.4 L619.5 914.9 L620 914.7 L620.5 913.8 L621 912.8 L621.5 911.6 L622 910.1 L622.5 910.0 L623 908.8 L623.5 908.6 L624 907.9 L624.5 908.1 L625 908.1 L625.5 908.8 L626 909.2 L626.5 910.1 L627 911.1 L627.5 912.0 L628 913.4 L628.5 914.3 L629 915.4 L629.5 915.3 L630 916.0 L630.5 916.7 L631 916.8 L631.5 915.6 L632 914.6 L632.5 913.8 L633 913.5 L633.5 912.1 L634 911.9 L634.5 910.9 L635 910.3 L635.5 909.5 L636 909.4 L636.5 909.3 L637 909.1 L637.5 909.5 L638 910.7 L638.5 910.7 L639 911.6 L639.5 912.4 L640 913.8 L640.5 913.8 L641 914.8 L641.5 916.6 L642 917.5 L642.5 917.4 L643 916.7 L643.5 915.4 L644 918.5 L644.5 917.2 L645.5 917.6 L646.5 917.0 L647.5 916.4 L648.5 916.9 L649.5 918.5 L650.5 918.5 L651.5 918.0 L652.5 917.9 L653.5 917.3 L654.5 918.3 L655.5 917.5 L656.5 919.2 L657.5 917.6 L658.5 915.9 L659.5 917.3 L660.5 918.1 L661.5 918.5 L662.5 918.5 L663.5 916.4 L664.5 917.8 L665.5 918.9 L666.5 918.0 L667.5 917.7 L668.5 919.0 L669.5 918.4 L670.5 918.9 L671.5 917.4 L672.5 918.2 L673.5 918.0 L674.5 917.3 L675.5 918.3 L676.5 917.7 L677.5 917.9 L678.5 918.1 L679.5 916.2 L680.5 916.7 L681.5 915.6 L682.5 916.9 L683.5 916.5 L684.5 918.4 L685.5 916.4 L686.5 917.5 L687.5 916.8 L688.5 919.0 L689.5 917.3 L690.5 916.9 L691.5 917.1 L692.5 917.9 L693.5 918.2 L694.5 916.3 L695.5 917.0 L696.5 918.7 L697.5 919.2 L698.5 917.7 L699 918.2 L699.5 916.6 L700 916.5 L700.5 913.5 L701 912.2 L701.5 907.2 L702 902.6 L702.5 898.4 L703 896.0 L703.5 896.3 L704 899.3 L704.5 903.6 L705 908.4 L705.5 911.9 L706 914.8 L706.5 916.0 L707 918.4 L707.5 917.4 L708.5 916.7 L709.5 916.6 L710.5 917.3 L711 917.0 L711.5 915.4 L712 916.2 L712.5 916.0 L713 915.9 L713.5 915.1 L714 914.2 L714.5 912.5 L715 911.2 L715.5 909.1 L716 908.0 L716.5 906.0 L717 904.6 L717.5 903.4 L718 902.2 L718.5 901.7 L719 901.3 L719.5 901.6 L720 902.3 L720.5 903.2 L721 904.5 L721.5 906.0 L722 907.7 L722.5 909.5 L723 910.8 L723.5 913.1 L724 912.8 L724.5 914.8 L725 915.2 L725.5 915.1 L726 917.1 L726.5 917.2 L727 917.0 L727.5 918.0 L728.5 918.9 L729.5 917.3 L730.5 918.1 L731.5 916.5 L732.5 917.0 L733.5 916.8 L734.5 917.0 L735.5 917.4 L736.5 918.8 L737.5 918.7 L738.5 917.5 L739.5 918.2 L740.5 917.7 L741.5 918.0 L742.5 919.1 L743.5 917.3 L744.5 917.1 L745.5 918.7 L746.5 918.8 L747.5 918.0 L748.5 918.5 L749.5 917.2 L750.5 917.9 L751 918.2 L751.5 916.5 L752 916.3 L752.5 913.9 L753 909.4 L753.5 901.4 L754 889.7 L754.5 876.4 L755 865.5 L755.5 861.2 L756 865.5 L756.5 876.4 L757 889.7 L757.5 901.3 L758 909.5 L758.5 914.2 L759 915.4 L759.5 916.5 L760 916.4 L761 917.4 L762 916.4 L763 918.9 L764 918.0 L765 918.6 L766 919.1 L767 917.5 L768 916.3 L769 918.2 L770 917.0 L771 917.4 L772 918.3 L773 917.4 L774 916.4 L775 917.5 L776 918.8 L777 917.1 L778 917.5 L779 918.7 L780 917.2 L781 917.9 L782 916.7 L783 917.9 L784 917.7 L785 918.2 L786 917.6 L787 917.6 L788 918.7 L789 917.3 L790 917.8 L790.5 916.3 L791 915.4 L791.5 914.8 L792 911.9 L792.5 906.6 L793 901.3 L793.5 896.2 L794 892.7 L794.5 892.5 L795 895.3 L795.5 900.3 L796 905.9 L796.5 910.5 L797 912.8 L797.5 916.4 L798 916.0 L798.5 918.0 L799.5 917.5 L800.5 916.2 L801 918.0 L801.5 918.1 L802 916.2 L802.5 914.6 L803 911.8 L803.5 907.3 L804 902.5 L804.5 898.4 L805 896.0 L805.5 896.2 L806 899.1 L806.5 903.7 L807 908.3 L807.5 912.5 L808 915.6 L808.5 915.8 L809 916.7 L809.5 916.2 L810.5 919.0 L811.5 917.7 L812.5 917.6 L813.5 918.2 L814.5 916.4 L815.5 916.8 L816.5 916.0 L817 917.7 L817.5 917.0 L818 915.4 L818.5 912.1 L819 907.4 L819.5 901.9 L820 895.8 L820.5 891.1 L821 889.2 L821.5 891.1 L822 895.9 L822.5 901.7 L823 907.5 L823.5 911.8 L824 914.6 L824.5 916.9 L825 917.2 L825.5 916.8 L826.5 917.1 L827.5 917.7 L828.5 917.8 L829.5 918.1 L830.5 915.9 L831.5 918.7 L832.5 916.6 L833.5 916.6 L834.5 917.7 L835.5 917.1 L836.5 917.4 L837.5 917.2 L838.5 917.4 L839 918.2 L839.5 915.8 L840 916.8 L840.5 917.2 L841 916.3 L841.5 916.0 L842 915.8 L842.5 915.1 L843 913.5 L843.5 912.6 L844 911.2 L844.5 909.6 L845 908.1 L845.5 907.1 L846 905.7 L846.5 905.0 L847 904.3 L847.5 903.7 L848 903.6 L848.5 904.3 L849 905.1 L849.5 906.3 L850 907.3 L850.5 908.4 L851 909.9 L851.5 911.8 L852 912.5 L852.5 914.4 L853 914.8 L853.5 915.2 L854 915.8 L854.5 917.7 L855 917.4 L855.5 917.1 L856 916.9 L857 917.0 L858 918.8 L859 915.6 L860 917.6 L861 916.7 L862 918.9 L863 917.3 L864 916.2 L865 918.4 L866 916.8 L867 918.2 L868 917.4 L869 917.6 L870 918.8 L871 917.1 L872 918.5 L873 916.8 L874 916.8 L875 917.8 L876 916.9 L877 917.7 L878 916.6 L879 918.2 L880 917.5 L881 918.7 L882 917.1 L883 917.5 L884 916.2 L885 916.8 L886 916.3 L887 917.2 L888 917.5 L889 917.7 L890 918.4 L891 916.9 L892 916.9 L893 917.2 L894 918.4 L895 916.4 L896 917.7 L897 916.5 L898 917.4 L899 917.2 L899.5 916.1 L900 917.2 L900.5 915.2 L901 912.4 L901.5 908.0 L902 901.5 L902.5 893.3 L903 885.6 L903.5 880.6 L904 880.1 L904.5 884.3 L905 891.6 L905.5 899.9 L906 906.8 L906.5 911.6 L907 915.0 L907.5 915.0 L908 917.0 L908.5 916.7 L909 914.5 L909.5 912.1 L910 908.8 L910.5 903.5 L911 898.1 L911.5 893.9 L912 892.3 L912.5 893.8 L913 898.0 L913.5 903.6 L914 908.7 L914.5 912.6 L915 915.8 L915.5 916.4 L916 917.3 L916.5 917.8 L917.5 917.8 L918.5 918.8 L919.5 917.5 L920.5 917.9 L921.5 917.5 L922.5 916.8 L923.5 915.7 L924.5 917.7 L925.5 917.9 L926.5 917.7 L927.5 917.4 L928.5 916.8 L929 916.7 L929.5 916.8 L930 916.4 L930.5 915.6 L931 916.0 L931.5 915.2 L932 914.9 L932.5 915.1 L933 914.0 L933.5 913.7 L934 913.1 L934.5 912.1 L935 911.4 L935.5 910.7 L936 910.5 L936.5 910.7 L937 910.1 L937.5 910.1 L938 910.3 L938.5 910.9 L939 911.6 L939.5 912.3 L940 912.5 L940.5 913.3 L941 914.4 L941.5 914.8 L942 915.4 L942.5 916.2 L943 916.4 L943.5 916.9 L944 916.3 L944.5 917.7 L945 917.4 L946 916.9 L947 917.9 L948 917.0 L949 917.4 L950 916.7 L951 917.5 L952 916.5 L953 917.5 L954 917.2 L955 917.1 L956 917.1 L957 917.8 L958 917.6 L959 916.8 L960 918.1 L961 916.8 L962 917.9 L963 916.7 L964 918.2 L965 917.2 L966 917.6 L967 917.0 L968 916.5 L969 916.9 L969.5 916.0 L970 916.8 L970.5 917.3 L971 916.3 L971.5 916.3 L972 914.9 L972.5 913.7 L973 914.2 L973.5 913.2 L974 912.7 L974.5 910.7 L975 909.8 L975.5 909.4 L976 908.6 L976.5 908.2 L977 908.4 L977.5 908.3 L978 908.6 L978.5 908.8 L979 910.1 L979.5 910.9 L980 911.3 L980.5 912.6 L981 913.9 L981.5 914.5 L982 914.4 L982.5 914.3 L983 915.8 L983.5 915.4 L984 917.5 L984.5 916.7 L985 916.2 L985.5 916.3 L986 915.7 L986.5 913.6 L987 915.2 L987.5 914.4 L988 912.8 L988.5 911.7 L989 911.6 L989.5 910.6 L990 909.8 L990.5 909.2 L991 909.3 L991.5 908.7 L992 908.9 L992.5 909.5 L993 910.4 L993.5 910.2 L994 911.5 L994.5 912.9 L995 912.9 L995.5 913.4 L996 915.2 L996.5 914.9 L997 916.1 L997.5 916.2 L998 916.2 L998.5 917.5 L999 916.5 L999.5 916.0 L1000.5 916.8 L1001.5 917.3 L1002.5 917.7 L1003.5 915.4 L1004.5 917.3 L1005.5 917.5 L1006.5 916.2 L1007.5 918.6 L1008.5 917.7 L1009.5 917.3 L1010.5 918.0 L1011.5 917.5 L1012.5 917.2 L1013.5 916.9 L1014.5 917.4 L1015.5 917.3 L1016.5 918.0 L1017.5 916.8 L1018.5 917.0 L1019.5 918.4 L1020.5 916.4 L1021.5 915.5 L1022.5 917.2 L1023.5 918.6 L1024.5 917.2 L1025.5 918.1 L1026.5 916.9 L1027.5 915.7 L1028 917.9 L1028.5 916.7 L1029 917.2 L1029.5 917.0 L1030 916.0 L1030.5 916.7 L1031 914.2 L1031.5 914.2 L1032 912.8 L1032.5 912.1 L1033 910.4 L1033.5 909.7 L1034 908.3 L1034.5 906.3 L1035 905.4 L1035.5 904.2 L1036 903.6 L1036.5 903.3 L1037 903.2 L1037.5 903.4 L1038 904.2 L1038.5 905.2 L1039 906.8 L1039.5 907.7 L1040 909.0 L1040.5 910.1 L1041 911.9 L1041.5 913.8 L1042 914.4 L1042.5 914.2 L1043 915.2 L1043.5 915.6 L1044 916.3 L1044.5 917.0 L1045 917.1 L1045.5 917.0 L1046.5 918.1 L1047.5 916.0 L1048.5 918.1 L1049.5 916.5 L1050.5 917.9 L1051.5 916.5 L1052.5 915.8 L1053.5 917.5 L1054.5 917.0 L1055.5 917.2 L1056.5 917.5 L1057.5 918.6 L1058.5 916.2 L1059.5 917.8 L1060.5 916.6 L1061.5 917.9 L1062 916.5 L1062.5 916.5 L1063 916.7 L1063.5 915.2 L1064 916.0 L1064.5 914.6 L1065 913.9 L1065.5 912.2 L1066 911.4 L1066.5 910.3 L1067 908.7 L1067.5 906.5 L1068 905.0 L1068.5 903.1 L1069 901.7 L1069.5 900.7 L1070 900.0 L1070.5 899.8 L1071 899.9 L1071.5 900.7 L1072 901.9 L1072.5 903.3 L1073 904.8 L1073.5 906.7 L1074 908.0 L1074.5 910.3 L1075 911.2 L1075.5 912.9 L1076 913.1 L1076.5 914.4 L1077 915.4 L1077.5 915.8 L1078 916.5 L1078.5 917.7 L1079 917.0 L1079.5 917.2 L1080.5 917.6 L1081.5 917.1 L1082.5 916.5 L1083.5 918.0 L1084.5 917.1 L1085 916.6 L1085.5 916.9 L1086 916.6 L1086.5 915.0 L1087 915.1 L1087.5 915.5 L1088 914.6 L1088.5 913.2 L1089 912.5 L1089.5 911.5 L1090 910.6 L1090.5 909.3 L1091 908.5 L1091.5 907.9 L1092 907.7 L1092.5 907.6 L1093 907.9 L1093.5 907.6 L1094 908.6 L1094.5 909.5 L1095 909.8 L1095.5 911.7 L1096 912.4 L1096.5 913.4 L1097 914.3 L1097.5 914.7 L1098 915.6 L1098.5 915.9 L1099 916.5 L1099.5 915.7 L1100 915.7 L1100.5 915.4 L1101 913.7 L1101.5 914.3 L1102 912.4 L1102.5 911.4 L1103 911.1 L1103.5 910.6 L1104 909.7 L1104.5 909.3 L1105 909.1 L1105.5 908.5 L1106 908.8 L1106.5 909.8 L1107 910.4 L1107.5 910.8 L1108 910.7 L1108.5 912.5 L1109 913.3 L1109.5 913.4 L1110 914.4 L1110.5 915.8 L1111 914.4 L1111.5 915.3 L1112 916.7 L1112.5 916.3 L1113 916.8 L1113.5 916.7 L1114.5 917.2 L1115.5 917.0 L1116.5 916.0 L1117.5 916.5 L1118.5 917.6 L1119.5 915.8 L1120.5 918.5 L1121.5 916.7 L1122.5 917.6 L1123.5 916.2 L1124.5 917.9 L1125.5 916.0 L1126.5 916.1 L1127.5 916.8 L1128.5 916.3 L1129.5 916.9 L1130.5 917.1 L1131.5 916.8 L1132.5 915.5 L1133.5 917.8 L1134.5 917.6 L1135.5 916.0 L1136.5 915.3 L1137.5 916.0 L1138.5 917.3 L1139.5 917.9 L1140.5 917.9 L1141.5 917.4 L1142.5 915.9 L1143.5 916.6 L1144.5 917.4 L1145.5 916.3 L1146.5 916.4 L1147.5 917.2 L1148.5 917.2 L1149.5 916.9 L1150.5 917.5 L1151.5 916.1 L1152 916.8 L1152.5 916.6 L1153 916.5 L1153.5 915.8 L1154 916.1 L1154.5 914.8 L1155 914.3 L1155.5 913.7 L1156 912.7 L1156.5 911.4 L1157 910.4 L1157.5 908.8 L1158 907.7 L1158.5 906.4 L1159 905.6 L1159.5 904.5 L1160 904.1 L1160.5 904.2 L1161 904.5 L1161.5 905.0 L1162 905.8 L1162.5 907.0 L1163 908.4 L1163.5 909.5 L1164 911.3 L1164.5 912.0 L1165 913.2 L1165.5 914.1 L1166 914.2 L1166.5 914.9 L1167 915.2 L1167.5 916.1 L1168 916.3 L1168.5 917.5 L1169 915.9 L1170 917.1 L1171 917.7 L1172 917.2 L1173 916.4 L1174 917.3 L1175 917.0 L1176 918.1 L1177 917.4 L1178 917.2 L1179 915.0 L1180 916.1 L1181 917.6 L1182 916.9 L1183 917.4 L1184 917.2 L1185 917.1 L1186 917.8 L1187 916.1 L1188 917.1 L1189 916.7 L1190 915.9 L1191 916.7 L1192 916.8" fill="none" stroke="#000000" stroke-width="12.5" stroke-linejoin="round" stroke-linecap="round"/>
</g>
<g fill="#000">
<rect x="185" y="1121.6" width="6" height="65.4"/>
<rect x="243" y="1072.2" width="6" height="114.8"/>
<rect x="274" y="1139.3" width="6" height="47.7"/>
<rect x="296" y="1158.3" width="6" height="28.7"/>
<rect x="320" y="1062.7" width="6" height="124.3"/>
<rect x="386" y="1069.9" width="6" height="117.1"/>
<rect x="426" y="1130.6" width="6" height="56.4"/>
<rect x="463" y="1167.4" width="6" height="19.6"/>
<rect x="480" y="1041.5" width="6" height="145.5"/>
<rect x="495" y="1130.6" width="6" height="56.4"/>
<rect x="516" y="1142.4" width="6" height="44.6"/>
<rect x="524" y="1168.0" width="6" height="19.0"/>
<rect x="540" y="1153.3" width="6" height="33.7"/>
<rect x="546" y="1154.9" width="2" height="32.1"/>
<rect x="548" y="1147.6" width="6" height="39.4"/>
<rect x="587" y="1150.4" width="6" height="36.6"/>
<rect x="621" y="1162.4" width="6" height="24.6"/>
<rect x="631" y="1164.4" width="6" height="22.6"/>
<rect x="652" y="1167.4" width="6" height="19.6"/>
<rect x="660" y="1170.1" width="6" height="16.9"/>
<rect x="680" y="1168.0" width="6" height="19.0"/>
<rect x="690" y="1170.3" width="6" height="16.7"/>
<rect x="698" y="1154.0" width="6" height="33.0"/>
<rect x="704" y="1160.0" width="2" height="27.0"/>
<rect x="712" y="1165.7" width="4" height="21.3"/>
<rect x="715" y="1153.3" width="6" height="33.7"/>
<rect x="720" y="1161.2" width="6" height="25.8"/>
<rect x="750" y="1130.0" width="6" height="57.0"/>
<rect x="756" y="1138.5" width="3" height="48.5"/>
<rect x="760" y="1168.0" width="7" height="19.0"/>
<rect x="790" y="1150.3" width="6" height="36.7"/>
<rect x="797" y="1147.6" width="6" height="39.4"/>
<rect x="816" y="1144.2" width="6" height="42.8"/>
<rect x="831" y="1167.1" width="6" height="19.9"/>
<rect x="842" y="1155.1" width="6" height="31.9"/>
<rect x="856" y="1170.3" width="6" height="16.7"/>
<rect x="863" y="1170.3" width="9" height="16.7"/>
<rect x="889" y="1170.3" width="6" height="16.7"/>
<rect x="895" y="1167.6" width="2" height="19.4"/>
<rect x="897" y="1148.3" width="12" height="38.7"/>
<rect x="928" y="1170.4" width="7" height="16.6"/>
<rect x="935" y="1166.3" width="6" height="20.7"/>
<rect x="943" y="1168.5" width="6" height="18.5"/>
<rect x="958" y="1169.0" width="6" height="18.0"/>
<rect x="964" y="1166.3" width="6" height="20.7"/>
<rect x="971" y="1162.4" width="6" height="24.6"/>
<rect x="984" y="1169.0" width="6" height="18.0"/>
<rect x="990" y="1163.6" width="6" height="23.4"/>
<rect x="996" y="1167.4" width="14" height="19.6"/>
<rect x="1020" y="1166.3" width="6" height="20.7"/>
<rect x="1033" y="1158.3" width="6" height="28.7"/>
<rect x="1051" y="1166.3" width="6" height="20.7"/>
<rect x="1060" y="1167.0" width="6" height="20.0"/>
<rect x="1066" y="1156.5" width="6" height="30.5"/>
<rect x="1073" y="1170.4" width="7" height="16.6"/>
<rect x="1080" y="1169.0" width="8" height="18.0"/>
<rect x="1088" y="1166.3" width="4" height="20.7"/>
<rect x="1098" y="1161.3" width="7" height="25.7"/>
<rect x="1110" y="1168.1" width="11" height="18.9"/>
<rect x="1121" y="1167.4" width="6" height="19.6"/>
<rect x="1127" y="1169.0" width="9" height="18.0"/>
<rect x="1147" y="1169.0" width="6" height="18.0"/>
<rect x="1153" y="1165.1" width="8" height="21.9"/>
<rect x="1161" y="1168.1" width="6" height="18.9"/>
<rect x="1188" y="1169.0" width="3" height="18.0"/>
</g>
<rect x="72" y="25" width="1124" height="5"/>
<rect x="72" y="25" width="6" height="1164"/>
<rect x="1190" y="25" width="6" height="1164"/>
<rect x="72" y="1184" width="1124" height="5"/>
<rect x="72" y="965" width="1124" height="3"/>
<line x1="75.0" y1="1189" x2="75.0" y2="1207.5" stroke="#000" stroke-width="6" stroke-linecap="round"/>
<line x1="234.7" y1="1189" x2="234.7" y2="1207.5" stroke="#000" stroke-width="6" stroke-linecap="round"/>
<line x1="394.4" y1="1189" x2="394.4" y2="1207.5" stroke="#000" stroke-width="6" stroke-linecap="round"/>
<line x1="554.1" y1="1189" x2="554.1" y2="1207.5" stroke="#000" stroke-width="6" stroke-linecap="round"/>
<line x1="713.9" y1="1189" x2="713.9" y2="1207.5" stroke="#000" stroke-width="6" stroke-linecap="round"/>
<line x1="873.6" y1="1189" x2="873.6" y2="1207.5" stroke="#000" stroke-width="6" stroke-linecap="round"/>
<line x1="1033.3" y1="1189" x2="1033.3" y2="1207.5" stroke="#000" stroke-width="6" stroke-linecap="round"/>
<line x1="1193.0" y1="1189" x2="1193.0" y2="1207.5" stroke="#000" stroke-width="6" stroke-linecap="round"/>
<line x1="154.9" y1="1189" x2="154.9" y2="1196" stroke="#000" stroke-width="6" stroke-linecap="round"/>
<line x1="314.6" y1="1189" x2="314.6" y2="1196" stroke="#000" stroke-width="6" stroke-linecap="round"/>
<line x1="474.3" y1="1189" x2="474.3" y2="1196" stroke="#000" stroke-width="6" stroke-linecap="round"/>
<line x1="634.0" y1="1189" x2="634.0" y2="1196" stroke="#000" stroke-width="6" stroke-linecap="round"/>
<line x1="793.7" y1="1189" x2="793.7" y2="1196" stroke="#000" stroke-width="6" stroke-linecap="round"/>
<line x1="953.4" y1="1189" x2="953.4" y2="1196" stroke="#000" stroke-width="6" stroke-linecap="round"/>
<line x1="1113.1" y1="1189" x2="1113.1" y2="1196" stroke="#000" stroke-width="6" stroke-linecap="round"/>
<text x="75.0" y="1257.5" text-anchor="middle" font-family="Liberation Sans" font-size="45" textLength="54" lengthAdjust="spacingAndGlyphs">10</text>
<text x="234.7" y="1257.5" text-anchor="middle" font-family="Liberation Sans" font-size="45" textLength="54" lengthAdjust="spacingAndGlyphs">20</text>
<text x="394.4" y="1257.5" text-anchor="middle" font-family="Liberation Sans" font-size="45" textLength="54" lengthAdjust="spacingAndGlyphs">30</text>
<text x="554.1" y="1257.5" text-anchor="middle" font-family="Liberation Sans" font-size="45" textLength="54" lengthAdjust="spacingAndGlyphs">40</text>
<text x="713.9" y="1257.5" text-anchor="middle" font-family="Liberation Sans" font-size="45" textLength="54" lengthAdjust="spacingAndGlyphs">50</text>
<text x="873.6" y="1257.5" text-anchor="middle" font-family="Liberation Sans" font-size="45" textLength="54" lengthAdjust="spacingAndGlyphs">60</text>
<text x="1033.3" y="1257.5" text-anchor="middle" font-family="Liberation Sans" font-size="45" textLength="54" lengthAdjust="spacingAndGlyphs">70</text>
<text x="1193.0" y="1257.5" text-anchor="middle" font-family="Liberation Sans" font-size="45" textLength="54" lengthAdjust="spacingAndGlyphs">80</text>
<g fill="#000">
<text x="402" y="90.5" font-family="Liberation Serif" font-weight="bold" font-size="52" textLength="197" lengthAdjust="spacingAndGlyphs">LiFePO</text>
<text x="600" y="111.5" font-family="Liberation Serif" font-weight="bold" font-size="52" textLength="27" lengthAdjust="spacingAndGlyphs">4</text>
<text x="628" y="90.5" font-family="Liberation Serif" font-weight="bold" font-size="52" textLength="61" lengthAdjust="spacingAndGlyphs">/C</text>
<text x="823" y="118.5" font-family="Liberation Serif" font-size="38" textLength="259" lengthAdjust="spacingAndGlyphs">T=850°C,t=15h</text>
<text x="997" y="189.5" font-family="Liberation Serif" font-size="38" textLength="133" lengthAdjust="spacingAndGlyphs">Glucose</text>
<text x="984" y="315.8" font-family="Liberation Serif" font-size="38" textLength="173" lengthAdjust="spacingAndGlyphs">Citric acid</text>
<text x="683" y="473.9" font-family="Liberation Serif" font-size="38" textLength="481.5" lengthAdjust="spacingAndGlyphs">Polyvinyl alcohol (PVA-124)</text>
<text x="773" y="664.5" font-family="Liberation Serif" font-size="38" textLength="413" lengthAdjust="spacingAndGlyphs">Polyethylene glycol 4000</text>
<text x="921" y="877.9" font-family="Liberation Serif" font-size="38" textLength="257" lengthAdjust="spacingAndGlyphs">Ethylene glycol</text>
<text x="860" y="1060.2" font-family="Liberation Serif" font-size="46" textLength="290.5" lengthAdjust="spacingAndGlyphs">PDF#83-2092</text>
<text x="471" y="1320" font-family="Liberation Serif" font-weight="bold" font-size="47" textLength="352" lengthAdjust="spacingAndGlyphs">2 Theta (Degree)</text>
<text transform="translate(53.8 689) rotate(-90)" font-family="Liberation Serif" font-weight="bold" font-size="46" textLength="174" lengthAdjust="spacingAndGlyphs">Intensity</text>
<text transform="translate(195.7 1106.5) rotate(-90)" font-family="Liberation Serif" font-size="38" textLength="80" lengthAdjust="spacingAndGlyphs">(200)</text>
<text transform="translate(267.1 1069) rotate(-90)" font-family="Liberation Serif" font-size="40" textLength="85" lengthAdjust="spacingAndGlyphs">(101)</text>
<text transform="translate(334.7 1051) rotate(-90)" font-family="Liberation Serif" font-size="39" textLength="84" lengthAdjust="spacingAndGlyphs">(111)</text>
<text transform="translate(411.3 1060) rotate(-90)" font-family="Liberation Serif" font-size="39" textLength="85" lengthAdjust="spacingAndGlyphs">(211)</text>
<text transform="translate(496.8 1043.8) rotate(-90)" font-family="Liberation Serif" font-size="36" textLength="76" lengthAdjust="spacingAndGlyphs">(311)</text>
</g>
</svg>
</body></html>
